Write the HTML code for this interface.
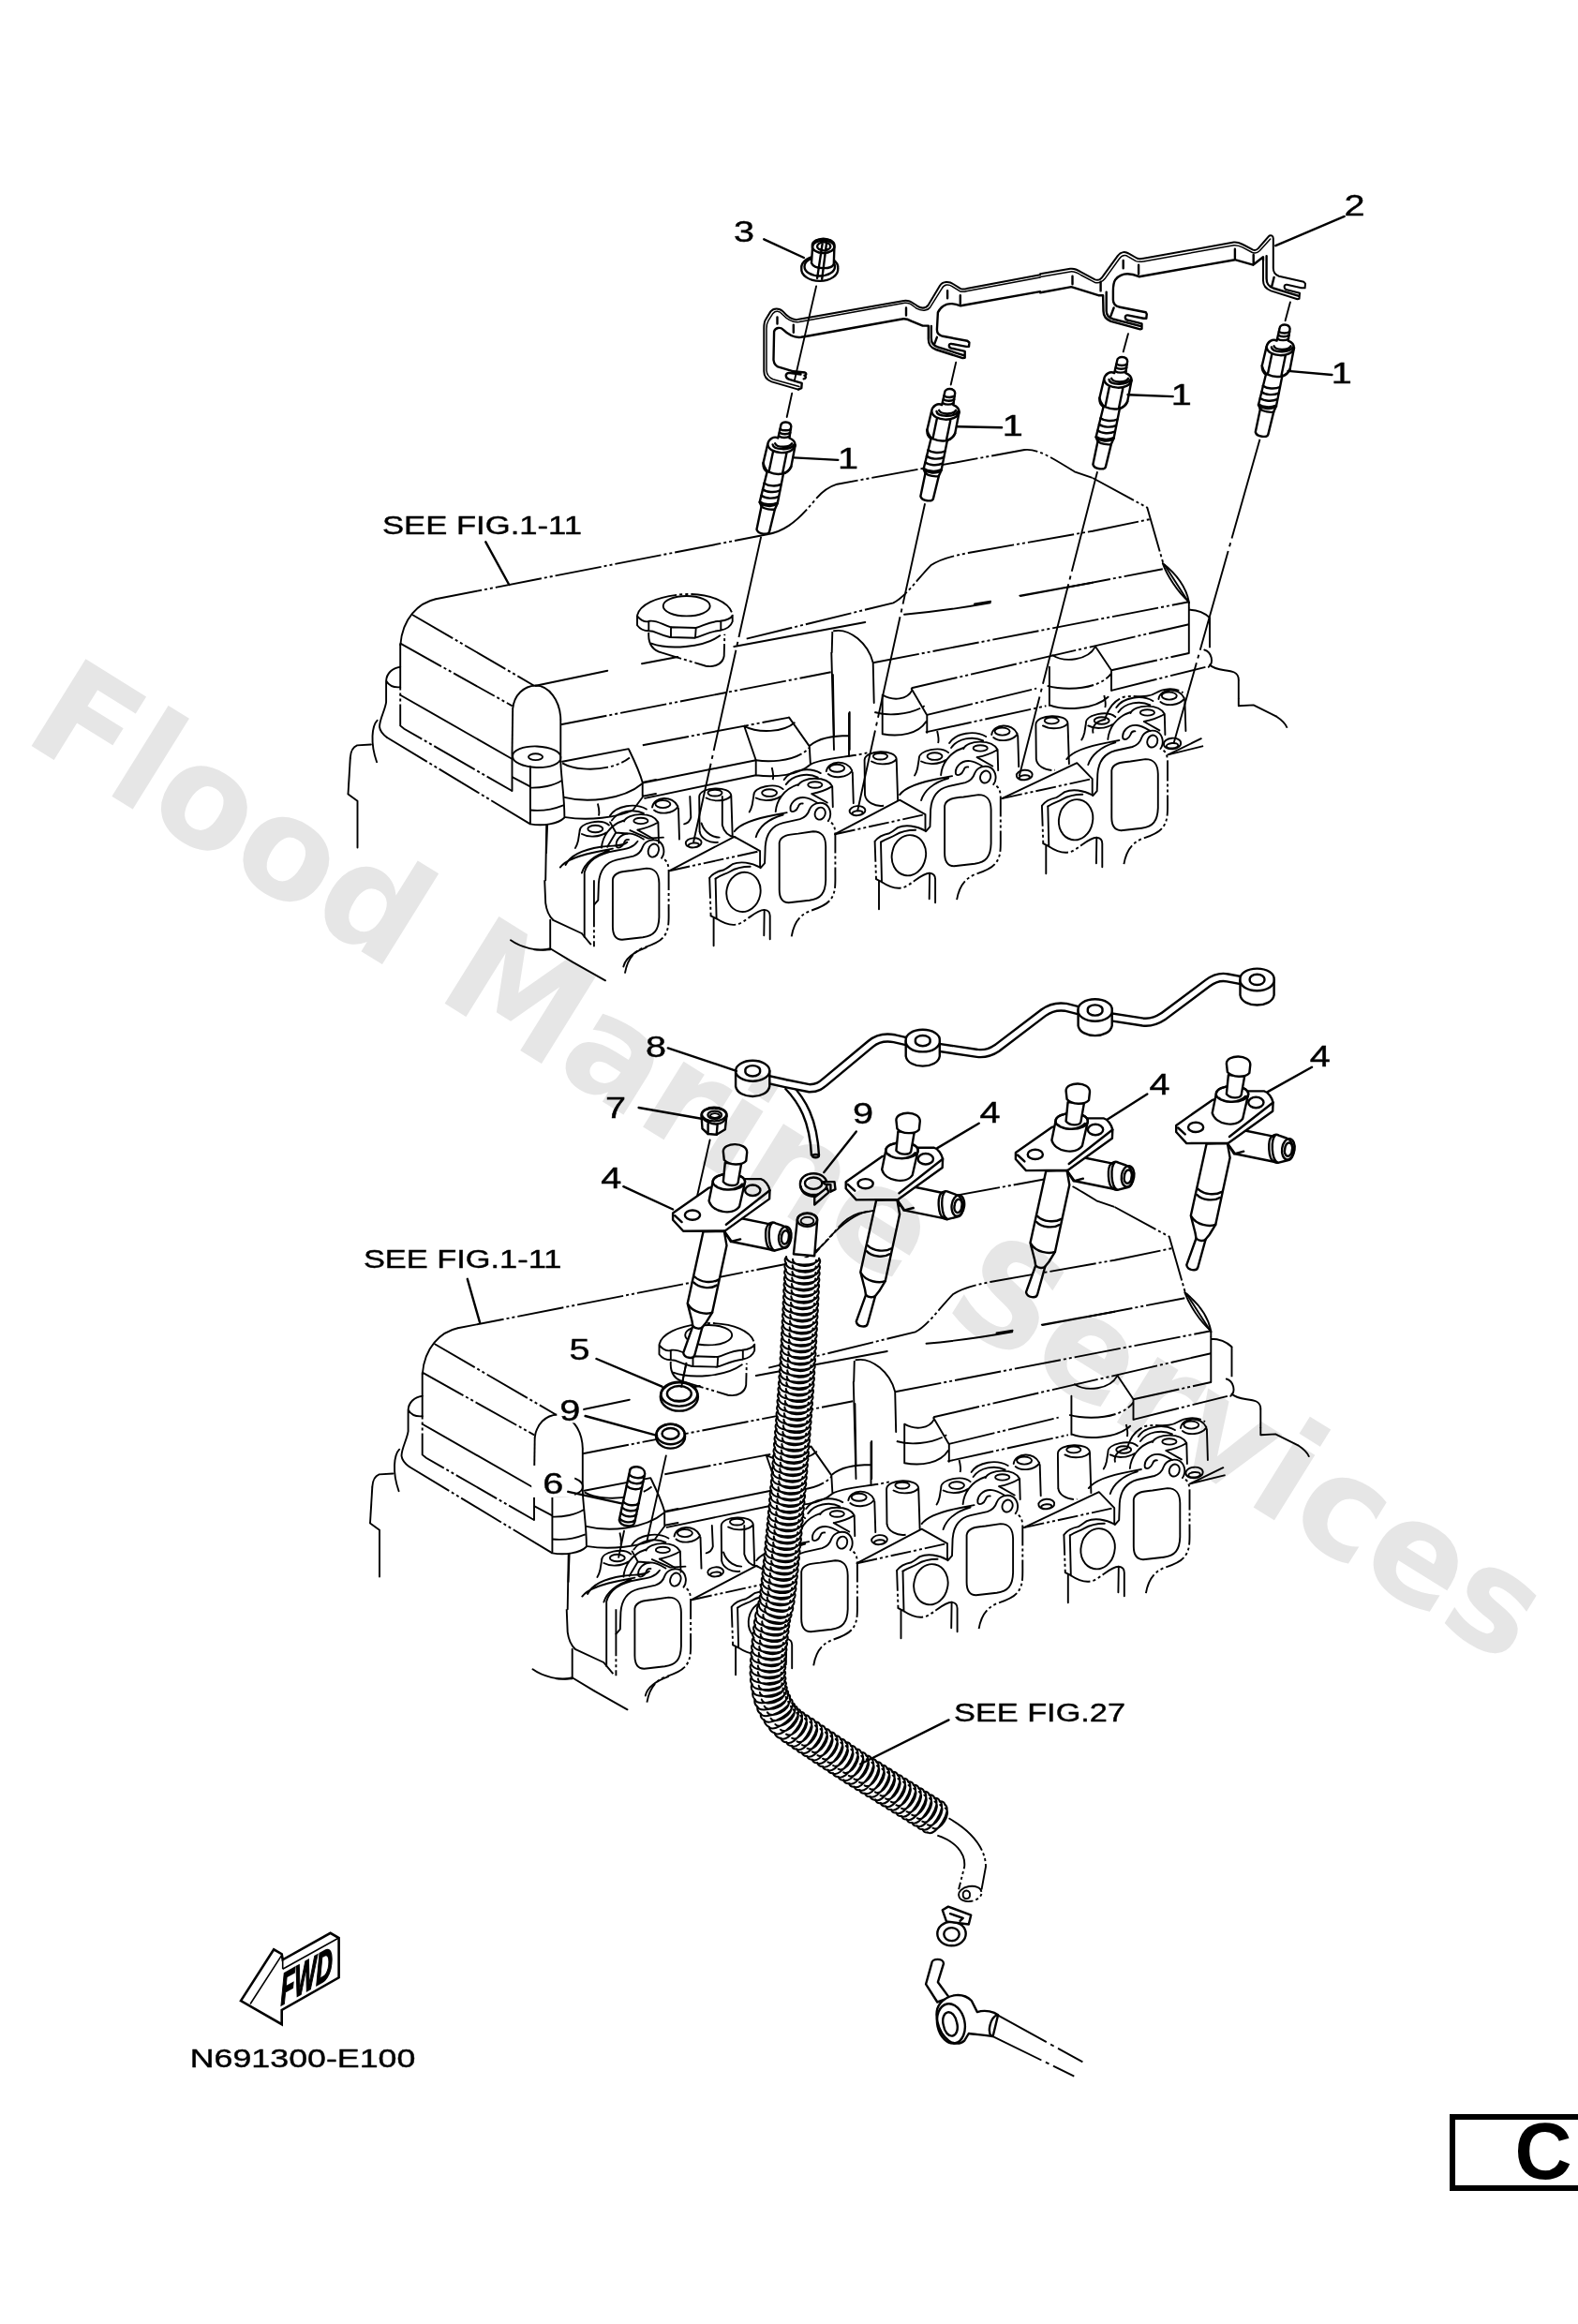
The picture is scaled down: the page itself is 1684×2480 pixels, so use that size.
<!DOCTYPE html>
<html><head><meta charset="utf-8"><title>Parts diagram</title>
<style>
html,body{margin:0;padding:0;background:#fff;}
svg{display:block}
.wm{font-family:"DejaVu Sans","Liberation Sans",sans-serif;font-weight:bold;fill:#e6e6e6;}
.lb{font-family:"Liberation Sans",sans-serif;font-size:27px;fill:#000;stroke:#000;stroke-width:0.4px}
.s{fill:none;stroke:#000;stroke-width:2.4;stroke-linecap:round;stroke-linejoin:round}
.p{fill:none;stroke:#000;stroke-width:1.9;stroke-dasharray:50 3 3 3 3 3}
.q{fill:none;stroke:#000;stroke-width:1.9;stroke-dasharray:22 3 3 3 3 3}
.t{fill:none;stroke:#000;stroke-width:1.9;stroke-linecap:round;stroke-linejoin:round}
.c{fill:none;stroke:#000;stroke-width:1.9;stroke-dasharray:110 5 4 5}
.c2{fill:none;stroke:#000;stroke-width:1.9;stroke-dasharray:60 5 4 5}
.hz{fill:none;stroke:#000;stroke-width:2.0;stroke-linecap:round}
.s3{fill:none;stroke:#000;stroke-width:2.0;stroke-linecap:round;stroke-linejoin:round}
.s2{fill:none;stroke:#000;stroke-width:1.5;stroke-linecap:round;stroke-linejoin:round}
.w{fill:#fff;stroke:#000;stroke-width:2.4;stroke-linejoin:round;stroke-linecap:round}
</style></head><body>
<svg width="1684" height="2480" viewBox="0 0 1684 2480">
<defs><g id="eng">
<path class="q" d="M 1021.1,960.2 C 1023.1,948.2 1028.2,938.2 1040.2,933.2 C 1052.2,929.2 1062.2,926.2 1066.2,914.2 C 1068.2,908.2 1067.8,900.2 1067.8,892.2 L 1067.8,850.1 C 1067.4,842.1 1065.2,839.1 1060.2,837.1"/>
<path class="t" d="M 1060.2,837.1 C 1064.2,832.1 1063.2,823.1 1057.2,819.1 C 1051.2,816.1 1043.2,818.1 1040.2,825.1 C 1038.6,830.1 1036.2,833.1 1030.2,835.1 L 1012.1,839.1 C 1000.1,842.1 994.1,850.1 993.1,864.1 L 992.5,882.1 L 988.1,887.2 M 1056.7,830.9 A 5.4 6.6 20 1 0 1046.5,827.2 A 5.4 6.6 20 1 0 1056.7,830.9 Z M 1008.1,860.1 C 1009.1,852.5 1018.1,851.3 1028.2,850.5 L 1044.2,848.1 C 1054.2,848.1 1057.4,854.1 1057.6,864.1 L 1057.6,900.2 C 1057.2,914.2 1052.2,920.2 1040.2,921.8 L 1018.1,924.2 C 1010.1,924.2 1008.1,918.2 1008.1,910.2 Z M 987.5,916.5 A 18 21.2 12 1 0 952.3,909 A 18 21.2 12 1 0 987.5,916.5 Z M 933.6,897.8 C 937,893.2 944.1,890.2 949.1,889.2 C 953.1,887.2 955.1,885.2 958.1,883.1 C 966.1,879.7 978.1,881.1 987.5,886.6 M 940,898.6 C 946.1,894.6 951.1,893.8 955.1,891.2 C 960.1,888.2 968.1,885.8 977.1,885.8"/>
<path class="q" d="M 933.6,897.8 L 935,938.2"/>
<path class="t" d="M 940,898.6 L 941,941.2 M 935,938.2 L 941,941.2 M 938,940.2 L 938,970.3"/>
<path class="q" d="M 941,941.2 C 950.1,947.2 960.1,950.2 968.1,945.2 C 978.1,939.2 984.1,932.2 992.1,931.8"/>
<path class="t" d="M 992.1,931.8 L 991.7,959.2 M 992.1,931.8 C 996.1,932.2 998.1,934.2 998.1,938.2 L 998.1,963.2 M 891,890.2 L 960.1,853.7 L 987.5,869.1 L 987.5,886.6"/>
<path class="q" d="M 891,890.2 L 987.5,869.1"/>
<path class="t" d="M 947.1,807.1 A 7.6 3.4 0 1 0 931.8,807.1 A 7.6 3.4 0 1 0 947.1,807.1 Z M 922.6,811.1 C 923,800 956.1,799 956.7,810.1 M 930,812.5 C 938,817.1 952.1,816.1 956.7,810.1 M 922.6,811.1 L 923,848.1 M 956.7,810.1 L 958.1,853.1"/>
<path class="p" d="M 923,848.1 C 924,856.1 934,861.1 943.1,859.7"/>
<path class="t" d="M 1005.5,807.1 A 8 3.8 0 1 0 989.5,807.1 A 8 3.8 0 1 0 1005.5,807.1 Z M 980.7,810.1 C 980.1,800 1004.1,796 1012.1,803.1 M 980.7,810.1 L 979.1,820.1 C 978.1,824.1 977.1,826.1 976.1,827.5 M 983.1,812.5 C 990.1,816.5 1002.1,815.7 1009.1,811.1 M 1004.1,827.1 C 1005.1,816.1 1012.1,803.1 1028.2,798 M 1028.2,799 C 1032.2,790 1058.2,788 1064.6,800 L 1065.2,822.1 M 1053.8,798.4 A 7.6 3.2 0 1 0 1038.6,798.4 A 7.6 3.2 0 1 0 1053.8,798.4 Z M 1013.1,793 C 1020.1,782 1040.2,779 1052.2,786 M 1015.1,798 C 1022.1,788 1038.2,785 1049.2,790.4 M 1042.6,808.1 L 1059.2,817.5 M 1042.6,808.1 C 1048.2,807.1 1056.2,805.1 1064.6,800 M 1020.1,826.1 C 1018.5,819.1 1025.2,811.1 1035.2,812.1 C 1040.2,812.5 1044.2,815.1 1049.2,818.1 M 1020.1,826.1 C 1022.1,828.1 1026.2,827.1 1028.2,822.1 C 1029.2,819.1 1031.2,818.1 1033.2,818.5 M 960.1,848.1 C 966.1,840.1 984.1,834.1 1004.1,830.5 L 1016.1,828.1 M 983.1,854.1 C 986.1,844.1 996.1,835.1 1012.1,830.5 M 1077.6,780.6 A 8 4 0 1 0 1061.6,780.6 A 8 4 0 1 0 1077.6,780.6 Z M 1058.2,784 C 1060.2,772 1080.2,771 1085.6,783 M 1060.2,787 C 1066.2,792 1080.2,791 1085.6,783.6 M 1086.2,785 L 1087.2,818.1"/>
<path class="p" d="M 1000.1,780 C 1001.1,784 1002.1,790 1001.1,793"/>
<path class="t" d="M 923.4,864.4 A 8.4 5 -5 1 0 906.6,865.9 A 8.4 5 -5 1 0 923.4,864.4 Z M 920.6,867.2 A 5.6 2.4 -5 1 0 909.4,868.2 A 5.6 2.4 -5 1 0 920.6,867.2 Z"/>
<path class="q" d="M 1199.4,922.2 C 1201.4,910.2 1206.4,900.2 1218.4,895.2 C 1230.4,891.2 1240.4,888.2 1244.4,876.1 C 1246.4,870.1 1246,862.1 1246,854.1 L 1246,812.1 C 1245.6,804.1 1243.4,801 1238.4,799"/>
<path class="t" d="M 1238.4,799 C 1242.4,794 1241.4,785 1235.4,781 C 1229.4,778 1221.4,780 1218.4,787 C 1216.8,792 1214.4,795 1208.4,797 L 1190.3,801 C 1178.3,804.1 1172.3,812.1 1171.3,826.1 L 1170.7,844.1 L 1166.3,849.1 M 1234.9,792.9 A 5.4 6.6 20 1 0 1224.7,789.2 A 5.4 6.6 20 1 0 1234.9,792.9 Z M 1186.3,822.1 C 1187.3,814.5 1196.4,813.3 1206.4,812.5 L 1222.4,810.1 C 1232.4,810.1 1235.6,816.1 1235.8,826.1 L 1235.8,862.1 C 1235.4,876.1 1230.4,882.1 1218.4,883.7 L 1196.4,886.2 C 1188.3,886.2 1186.3,880.1 1186.3,872.1 Z M 1165.7,878.5 A 18 21.2 12 1 0 1130.5,871 A 18 21.2 12 1 0 1165.7,878.5 Z M 1111.9,859.7 C 1115.3,855.1 1122.3,852.1 1127.3,851.1 C 1131.3,849.1 1133.3,847.1 1136.3,845.1 C 1144.3,841.7 1156.3,843.1 1165.7,848.5 M 1118.3,860.5 C 1124.3,856.5 1129.3,855.7 1133.3,853.1 C 1138.3,850.1 1146.3,847.7 1155.3,847.7"/>
<path class="q" d="M 1111.9,859.7 L 1113.3,900.2"/>
<path class="t" d="M 1118.3,860.5 L 1119.3,903.2 M 1113.3,900.2 L 1119.3,903.2 M 1116.3,902.2 L 1116.3,932.2"/>
<path class="q" d="M 1119.3,903.2 C 1128.3,909.2 1138.3,912.2 1146.3,907.2 C 1156.3,901.2 1162.3,894.2 1170.3,893.8"/>
<path class="t" d="M 1170.3,893.8 L 1169.9,921.2 M 1170.3,893.8 C 1174.3,894.2 1176.3,896.2 1176.3,900.2 L 1176.3,925.2 M 1069.2,852.1 L 1149.3,814.1 L 1165.7,831.1 L 1165.7,848.5"/>
<path class="q" d="M 1069.2,852.1 L 1165.7,831.1"/>
<path class="t" d="M 1183.7,769 A 8 3.8 0 1 0 1167.7,769 A 8 3.8 0 1 0 1183.7,769 Z M 1158.9,772 C 1158.3,762 1182.3,758 1190.3,765 M 1158.9,772 L 1157.3,782 C 1156.3,786 1155.3,788 1154.3,789.4 M 1161.3,774.4 C 1168.3,778.4 1180.3,777.6 1187.3,773 M 1182.3,789 C 1183.3,778 1190.3,765 1206.4,760 M 1206.4,761 C 1210.4,752 1236.4,750 1242.8,762 L 1243.4,784 M 1232,760.4 A 7.6 3.2 0 1 0 1216.8,760.4 A 7.6 3.2 0 1 0 1232,760.4 Z M 1191.3,755 C 1198.4,744 1218.4,741 1230.4,748 M 1193.4,760 C 1200.4,750 1216.4,747 1227.4,752.4 M 1220.8,770 L 1237.4,779.4 M 1220.8,770 C 1226.4,769 1234.4,767 1242.8,762 M 1198.4,788 C 1196.8,781 1203.4,773 1213.4,774 C 1218.4,774.4 1222.4,777 1227.4,780 M 1198.4,788 C 1200.4,790 1204.4,789 1206.4,784 C 1207.4,781 1209.4,780 1211.4,780.4 M 1138.3,810.1 C 1144.3,802.1 1162.3,796 1182.3,792.4 L 1194.4,790 M 1161.3,816.1 C 1164.3,806.1 1174.3,797 1190.3,792.4 M 1255.8,742.6 A 8 4 0 1 0 1239.8,742.6 A 8 4 0 1 0 1255.8,742.6 Z M 1236.4,746 C 1238.4,734 1258.4,733 1263.8,745 M 1238.4,749 C 1244.4,754 1258.4,753 1263.8,745.6 M 1264.4,747 L 1265.4,780"/>
<path class="p" d="M 1178.3,742 C 1179.3,746 1180.3,752 1179.3,755"/>
<path class="t" d="M 1101.6,826.3 A 8.4 5 -5 1 0 1084.9,827.8 A 8.4 5 -5 1 0 1101.6,826.3 Z M 1098.8,829.2 A 5.6 2.4 -5 1 0 1087.6,830.2 A 5.6 2.4 -5 1 0 1098.8,829.2 Z M 1129.9,769 A 7.6 3.4 0 1 0 1114.7,769 A 7.6 3.4 0 1 0 1129.9,769 Z M 1105.4,773 C 1105.8,762 1138.9,761 1139.5,772 M 1112.9,774.4 C 1120.9,779 1134.9,778 1139.5,772 M 1105.4,773 L 1105.8,810.1 M 1139.5,772 L 1140.9,815.1"/>
<path class="q" d="M 1105.8,810.1 C 1106.8,818.1 1116.9,823.1 1125.9,821.7 M 844.7,999.3 C 846.7,987.3 851.7,977.3 863.8,972.3 C 875.8,968.2 885.8,965.2 889.8,953.2 C 891.8,947.2 891.4,939.2 891.4,931.2 L 891.4,889.2 C 891,881.1 888.8,878.1 883.8,876.1"/>
<path class="t" d="M 883.8,876.1 C 887.8,871.1 886.8,862.1 880.8,858.1 C 874.8,855.1 866.8,857.1 863.8,864.1 C 862.2,869.1 859.8,872.1 853.7,874.1 L 835.7,878.1 C 823.7,881.1 817.7,889.2 816.7,903.2 L 816.1,921.2 L 811.7,926.2 M 880.3,870 A 5.4 6.6 20 1 0 870.1,866.3 A 5.4 6.6 20 1 0 880.3,870 Z M 831.7,899.2 C 832.7,891.6 841.7,890.4 851.7,889.6 L 867.8,887.2 C 877.8,887.2 881,893.2 881.2,903.2 L 881.2,939.2 C 880.8,953.2 875.8,959.2 863.8,960.8 L 841.7,963.2 C 833.7,963.2 831.7,957.2 831.7,949.2 Z M 811.1,955.6 A 18 21.2 12 1 0 775.8,948.1 A 18 21.2 12 1 0 811.1,955.6 Z M 757.2,936.8 C 760.6,932.2 767.6,929.2 772.6,928.2 C 776.7,926.2 778.7,924.2 781.7,922.2 C 789.7,918.8 801.7,920.2 811.1,925.6 M 763.6,937.6 C 769.6,933.6 774.6,932.8 778.7,930.2 C 783.7,927.2 791.7,924.8 800.7,924.8"/>
<path class="q" d="M 757.2,936.8 L 758.6,977.3"/>
<path class="t" d="M 763.6,937.6 L 764.6,980.3 M 758.6,977.3 L 764.6,980.3 M 761.6,979.3 L 761.6,1009.3"/>
<path class="q" d="M 764.6,980.3 C 773.6,986.3 783.7,989.3 791.7,984.3 C 801.7,978.3 807.7,971.3 815.7,970.9"/>
<path class="t" d="M 815.7,970.9 L 815.3,998.3 M 815.7,970.9 C 819.7,971.3 821.7,973.3 821.7,977.3 L 821.7,1002.3 M 714.6,929.2 L 783.7,892.8 L 811.1,908.2 L 811.1,925.6"/>
<path class="q" d="M 714.6,929.2 L 811.1,908.2"/>
<path class="t" d="M 770.6,846.1 A 7.6 3.4 0 1 0 755.4,846.1 A 7.6 3.4 0 1 0 770.6,846.1 Z M 746.2,850.1 C 746.6,839.1 779.7,838.1 780.3,849.1 M 753.6,851.5 C 761.6,856.1 775.7,855.1 780.3,849.1 M 746.2,850.1 L 746.6,887.2 M 780.3,849.1 L 781.7,892.2"/>
<path class="p" d="M 746.6,887.2 C 747.6,895.2 757.6,900.2 766.6,898.8"/>
<path class="t" d="M 829.1,846.1 A 8 3.8 0 1 0 813.1,846.1 A 8 3.8 0 1 0 829.1,846.1 Z M 804.3,849.1 C 803.7,839.1 827.7,835.1 835.7,842.1 M 804.3,849.1 L 802.7,859.1 C 801.7,863.1 800.7,865.1 799.7,866.5 M 806.7,851.5 C 813.7,855.5 825.7,854.7 832.7,850.1 M 827.7,866.1 C 828.7,855.1 835.7,842.1 851.7,837.1 M 851.7,838.1 C 855.7,829.1 881.8,827.1 888.2,839.1 L 888.8,861.1 M 877.4,837.5 A 7.6 3.2 0 1 0 862.2,837.5 A 7.6 3.2 0 1 0 877.4,837.5 Z M 836.7,832.1 C 843.7,821.1 863.8,818.1 875.8,825.1 M 838.7,837.1 C 845.7,827.1 861.8,824.1 872.8,829.5 M 866.2,847.1 L 882.8,856.5 M 866.2,847.1 C 871.8,846.1 879.8,844.1 888.2,839.1 M 843.7,865.1 C 842.1,858.1 848.7,850.1 858.8,851.1 C 863.8,851.5 867.8,854.1 872.8,857.1 M 843.7,865.1 C 845.7,867.1 849.7,866.1 851.7,861.1 C 852.7,858.1 854.7,857.1 856.7,857.5 M 783.7,887.2 C 789.7,879.1 807.7,873.1 827.7,869.5 L 839.7,867.1 M 806.7,893.2 C 809.7,883.1 819.7,874.1 835.7,869.5 M 901.2,819.7 A 8 4 0 1 0 885.2,819.7 A 8 4 0 1 0 901.2,819.7 Z M 881.8,823.1 C 883.8,811.1 903.8,810.1 909.2,822.1 M 883.8,826.1 C 889.8,831.1 903.8,830.1 909.2,822.7 M 909.8,824.1 L 910.8,857.1"/>
<path class="p" d="M 823.7,819.1 C 824.7,823.1 825.7,829.1 824.7,832.1"/>
<path class="t" d="M 748.6,898.6 A 8.4 5 -5 1 0 731.8,900.1 A 8.4 5 -5 1 0 748.6,898.6 Z M 745.8,901.5 A 5.6 2.4 -5 1 0 734.6,902.5 A 5.6 2.4 -5 1 0 745.8,901.5 Z"/>
<path class="q" d="M 666.9,1038.7 C 668.9,1026.7 673.9,1016.7 685.9,1011.7 C 698,1007.7 708,1004.7 712,992.7 C 714,986.7 713.6,978.7 713.6,970.7 L 713.6,928.6 C 713.2,920.6 711,917.6 706,915.6"/>
<path class="t" d="M 706,915.6 C 710,910.6 709,901.6 703,897.6 C 697,894.6 688.9,896.6 685.9,903.6 C 684.3,908.6 681.9,911.6 675.9,913.6 L 657.9,917.6 C 645.9,920.6 639.9,928.6 638.9,942.6 L 638.3,960.6 L 633.9,965.6 M 702.4,909.4 A 5.4 6.6 20 1 0 692.3,905.7 A 5.4 6.6 20 1 0 702.4,909.4 Z M 653.9,938.6 C 654.9,931 663.9,929.8 673.9,929 L 689.9,926.6 C 700,926.6 703.2,932.6 703.4,942.6 L 703.4,978.7 C 703,992.7 698,998.7 685.9,1000.3 L 663.9,1002.7 C 655.9,1002.7 653.9,996.7 653.9,988.7 Z M 643.3,884.5 A 8 3.8 0 1 0 627.3,884.5 A 8 3.8 0 1 0 643.3,884.5 Z M 618.5,887.6 C 617.9,877.5 641.9,873.5 649.9,880.5 M 618.5,887.6 L 616.9,897.6 C 615.9,901.6 614.9,903.6 613.9,905 M 620.9,890 C 627.9,894 639.9,893.2 646.9,888.6 M 641.9,904.6 C 642.9,893.6 649.9,880.5 665.9,875.5 M 665.9,876.5 C 669.9,867.5 696,865.5 702.4,877.5 L 703,899.6 M 691.5,875.9 A 7.6 3.2 0 1 0 676.3,875.9 A 7.6 3.2 0 1 0 691.5,875.9 Z M 650.9,870.5 C 657.9,859.5 677.9,856.5 689.9,863.5 M 652.9,875.5 C 659.9,865.5 675.9,862.5 686.9,867.9 M 680.3,885.6 L 697,895 M 680.3,885.6 C 685.9,884.5 694,882.5 702.4,877.5 M 657.9,903.6 C 656.3,896.6 662.9,888.6 672.9,889.6 C 677.9,890 681.9,892.6 686.9,895.6 M 657.9,903.6 C 659.9,905.6 663.9,904.6 665.9,899.6 C 666.9,896.6 668.9,895.6 670.9,896 M 597.8,925.6 C 603.8,917.6 621.9,911.6 641.9,908 L 653.9,905.6 M 620.9,931.6 C 623.9,921.6 633.9,912.6 649.9,908 M 715.4,858.1 A 8 4 0 1 0 699.4,858.1 A 8 4 0 1 0 715.4,858.1 Z M 696,861.5 C 698,849.5 718,848.5 723.4,860.5 M 698,864.5 C 704,869.5 718,868.5 723.4,861.1 M 724,862.5 L 725,895.6"/>
<path class="p" d="M 637.9,857.5 C 638.9,861.5 639.9,867.5 638.9,870.5 M 465,639.3 L 820,570"/>
<path class="t" d="M 465,639.3 C 446.7,643.3 429.3,660 427.3,688.3"/>
<path class="p" d="M 440,656 L 570,731.7 M 427.3,686.7 L 546.7,753.3"/>
<path class="t" d="M 427.3,741.7 L 546.7,810"/>
<path class="p" d="M 820,570 C 840,566 853.3,553.3 870,533.3 C 878.3,523.3 885,519.3 893.3,516.7 L 1093.3,480 C 1106.7,478.7 1120,486.7 1146.7,503.3 L 1166,510 M 1166,510 L 1224.3,541.7 L 1241,600 L 1269.3,644"/>
<path class="t" d="M 571.7,731.7 L 648.3,715.7 M 685,708.3 L 723.3,701 M 783.3,690 L 923.3,664"/>
<path class="p" d="M 796.7,681.7 L 953.3,643.3 C 966.7,636.7 980,616.7 993.3,603.3 C 1003.3,596.7 1016.7,593.3 1033.3,590 L 1166,566.7 M 1166,566.7 L 1227.7,554"/>
<path class="t" d="M 965,655.7 C 993.3,653.3 1023.3,649.3 1056.7,643.3 M 1088.3,635.7 L 1166,621.7 M 1040,644.5 L 1057.1,641.8 M 1089.1,636 L 1135.8,627.4"/>
<path class="p" d="M 1135.8,627.4 L 1240.8,607.3"/>
<path class="t" d="M 1240.8,601.1 C 1256.7,613.7 1265.9,627.4 1268.8,642.2 M 1240.8,601.1 C 1245.3,613.7 1256.7,631.9 1268.8,642.2"/>
<path class="p" d="M 427.2,686.6 L 427.2,774.4 L 431.3,777.8 L 546.5,844"/>
<path class="t" d="M 546.5,844 L 546.5,804.1"/>
<path class="p" d="M 546.5,804.1 L 547.2,756.2"/>
<path class="t" d="M 547.2,756.2 C 548.8,741.3 559,732.2 571.6,731.5 C 585.3,731.5 597.8,747 598.3,767.6"/>
<path class="p" d="M 598.3,767.6 L 598.3,813.2"/>
<path class="t" d="M 600.1,812.7 L 670.8,799.1 C 675.4,808.6 682.2,822.3 685.7,834.9 L 685.7,849.7 M 685.7,834.9 L 700,831.9 M 685.7,849.7 L 700,847"/>
<path class="p" d="M 600.1,814.3 C 618.3,824.6 654.9,822.3 672,808.6"/>
<path class="t" d="M 602.4,850.8 C 625.2,856.6 664,854.3 685.7,836 M 603.5,872.1 C 627.5,875.9 659.4,872.5 675.4,864.5 L 685.7,850.8 M 427.2,711.7 C 418.7,712.8 412.6,718.5 412.1,726.5 C 415.3,732.2 421,733.8 427.2,733.3 M 412.1,726.5 L 412.1,749.3 C 410.7,758.4 405,767.6 405,775.6 C 405.5,780.1 408.4,783.5 413,787"/>
<path class="p" d="M 413,787 L 565.9,879.4"/>
<path class="t" d="M 402.7,768.7 C 397,774.4 394.8,792.7 402.1,813.2 M 395.9,794.5 L 381.1,795.4 C 376.5,797.2 374.2,801.8 373.8,808.6"/>
<path class="p" d="M 373.8,808.6 L 371.5,847.4"/>
<path class="t" d="M 371.5,847.4 L 381.5,854.7 L 381.5,904.5 M 579.1,807.7 A 7.5 3.4 0 1 0 564,807.7 A 7.5 3.4 0 1 0 579.1,807.7 Z M 598.3,808.6 A 25.6 10.7 2 1 0 547.2,806.8 A 25.6 10.7 2 1 0 598.3,808.6 Z M 565.9,817.8 L 565.9,879.4 M 598.3,813.2 C 599,831.5 602.4,849.7 602.4,872.5 M 565.9,879.4 C 579.6,881.6 595.5,879.4 602.4,872.5 M 565.9,840.6 C 577.3,841 591,838.3 599,833.3"/>
<path class="p" d="M 565.9,864.5 C 577.3,865.7 591,863.4 601.2,859.3 M 546.5,829.2 L 565.9,839.4"/>
<path class="t" d="M 584.1,880.5 L 583,909.9 M 545,1003.3 C 556.7,1011.7 573.3,1015 586.7,1013.3"/>
<path class="p" d="M 598.3,773.3 L 886.7,717.3 M 931.7,707.3 L 1268.7,642.3"/>
<path class="t" d="M 890,673.3 C 906.7,670 926.7,686.7 931.7,707.3 L 932.7,750 M 887.3,696.7 L 890,800 M 906.7,760 L 906.7,800"/>
<path class="p" d="M 888.3,674 L 887.7,696.7 M 1268.8,642.2 L 1268.8,649.1"/>
<path class="t" d="M 1268.8,649.1 L 1268.8,697 M 1268.8,650.7 C 1277.3,650.7 1284.1,652.5 1291,659.3"/>
<path class="p" d="M 1291,659.3 L 1291,691.3 M 972.7,734.2 L 1268.8,666.2"/>
<path class="t" d="M 1168.9,689.7 L 1186,715.2 L 1186,736.9"/>
<path class="p" d="M 1186,715.2 L 1268.8,697 M 1186,736.9 L 1286.4,711.8"/>
<path class="t" d="M 1123.3,699.2 C 1135.8,707.2 1160.9,705 1168.9,690.1 M 1119.9,711.8 L 1119.9,752.9 M 1119.9,752.4 C 1135.8,758.6 1167.8,757.4 1182.6,743.7"/>
<path class="p" d="M 1117.6,731.9 C 1135.8,736.9 1172.3,736.9 1186,718.6 M 989.3,762.9 L 1106.2,734.6 M 987.8,781.4 L 1116.4,753.3"/>
<path class="t" d="M 1285.3,693.5 C 1293.3,695.8 1295.5,707.2 1289.8,711.8 M 1291,709.5 C 1297.8,716.4 1309.2,714.1 1317.2,717.5 C 1320.6,719.1 1321.8,722.1 1321.8,725.5"/>
<path class="p" d="M 1321.8,725.5 L 1321.8,746"/>
<path class="t" d="M 1321.8,746 L 1321.8,753.3 L 1337.7,752.4 L 1361.7,764.3"/>
<path class="p" d="M 1361.7,764.3 C 1368.5,768.8 1372,772.3 1373.6,776.8"/>
<path class="t" d="M 1246.5,805.3 L 1281.8,788.2"/>
<path class="p" d="M 1246.5,805.3 L 1284.1,796.2 M 1166.6,782.5 C 1164.3,773.4 1172.3,768.8 1179.2,767.7 C 1181.5,759.7 1186,748.3 1199.7,743.7 C 1213.4,741.5 1222.5,746 1233.9,739.2 C 1243.1,733.5 1256.7,734.6 1262.5,739.2"/>
<path class="t" d="M 1260.1,792.7 A 9.1 5.5 -5 1 0 1242,794.3 A 9.1 5.5 -5 1 0 1260.1,792.7 Z M 1257.2,795.2 A 6.2 2.5 -5 1 0 1244.9,796.3 A 6.2 2.5 -5 1 0 1257.2,795.2 Z"/>
<path class="p" d="M 685.8,795.3 L 842.1,765.6"/>
<path class="t" d="M 842.1,765.6 L 863.8,796.4 L 864.9,815.8 M 794.2,774.8 L 806.7,811.3 L 806.7,827.2 M 687,835.2 L 806.7,811.3 M 688.1,851.9 L 806.7,827.2 M 794.2,774.8 C 809,782.7 836.4,781.6 847.8,771.3 M 806.7,827.2 C 827.3,830 852.4,827.2 864.9,815.8"/>
<path class="p" d="M 806.7,811.3 C 825,814 852.4,811.3 863.8,797.6"/>
<path class="t" d="M 864.9,795.3 C 872.9,788.4 884.3,785 906,785 M 888.9,720 L 890,785 M 906,761.1 L 906,806.7"/>
<path class="p" d="M 864.9,815.8 C 875.2,809 909.4,807.8 925.4,803.3"/>
<path class="t" d="M 603.5,923 C 608.5,912.9 620.7,906.8 641,903.7 C 655.2,901.7 665.3,903.7 669.4,898.7 M 623.7,931.1 C 626.8,919 639,910.8 657.2,907.8 C 669.4,905.8 675.5,904.8 680.5,897.7 M 623.7,931.1 L 623.7,1000.1"/>
<path class="p" d="M 633.9,939.2 L 633.9,1010.2 M 581.2,939.2 L 582.2,963.6 C 583.2,971.7 586.2,977.8 590.3,981.8"/>
<path class="t" d="M 590.3,981.8 L 620.7,996 M 583.2,880.4 L 582.2,939.2 M 587.2,981.8 L 587.2,1013.3 M 570,1013.3 C 576.1,1013.9 582.2,1013.9 587.2,1012.2 M 610.6,1026.4 L 646,1046.3"/>
<path class="p" d="M 620.7,996 L 630.8,1008.2 M 587.2,1012.2 L 610.6,1026.4"/>
<path class="t" d="M 665.3,1031.5 C 667.3,1022.4 675.5,1016.3 689.7,1011.2 M 651.1,877.4 L 657.2,888.5 L 648.1,903.7 M 657.2,888.5 L 669.4,889.5 M 672.4,886.1 L 691.7,894.6 L 707.9,893.6 M 736.3,850 L 737.3,872.3 C 736.3,876.4 734.3,878.4 730.2,879.4 M 770.8,850 L 770.8,880.4 C 772.8,888.5 778.9,892.6 785,893.6 M 748.5,878.4 C 752.5,890.6 762.7,893.6 767.7,893.6"/>
<path class="p" d="M 680,656.7 C 683.3,643.3 706.7,635 733.3,634 C 760,634 780,643.3 781.7,656.7"/>
<path class="t" d="M 757.7,646.7 A 25 10.7 0 1 0 707.7,646.7 A 25 10.7 0 1 0 757.7,646.7 Z M 680,657.3 L 680,667.3 C 683.3,671.7 688.3,673.3 692.3,673.3 C 698.3,672.7 701.7,676.7 715,680 L 741.7,680.7 C 750,678.3 756.7,674 768.3,672.7 C 775,671.7 780,668.3 781.7,663.3 L 781.7,656.7 M 680,657.3 C 685,663.3 690,664 693.3,662.7 C 701.7,661.7 706.7,666.7 716,669.3 L 742.7,670 C 751.7,667.3 756.7,663.3 768.3,662.7 C 775,662 780,660 781.7,656.7 M 716,669.3 L 716,680 M 742.7,670 L 742,680.7 M 692.3,663.3 L 692.3,673.3 M 769.3,662.7 L 769.3,672.7"/>
<path class="p" d="M 692.3,675 C 691.7,683.3 693.3,693.3 706.7,696.7 L 753.3,710.7 C 765,712.7 771.7,706.7 772.7,700 L 773.3,676.7"/>
<path class="t" d="M 695,686.7 C 713.3,693.3 750,691.7 768.3,678.3 M 972.7,735 L 989.3,763.3 L 989.3,781.7 M 941.7,741.7 C 953.3,748.3 968.3,746.7 973.3,736.7 M 941.7,783.3 C 960,786.7 980,783.3 988.3,770 M 941.7,741.7 L 941.7,783.3"/>
<path class="p" d="M 933.3,760 C 950,765 973.3,761.7 986.7,753.3"/>
</g></defs>
<rect width="1684" height="2480" fill="#fff"/>
<use href="#eng"/>
<use href="#eng" transform="translate(23.5,778)"/>
<g id="top">
<path class="c" d="M812.2,572.6 L740.0,899.0 M987.1,537.2 L915.0,866.0 M1171.1,503.2 L1087.7,828.3 M1344.5,468.7 L1252.7,792.7"/>
<path class="s3" d="M 851.9,415.6 L 823.5,407.4 C 818.4,405.4 815.3,402.4 815.3,396.3 L 815.3,349.7 C 815.3,345.6 815.3,343.6 817.4,340.5 L 822.4,332.4 C 825.5,328.4 831.6,328.4 835.6,332.4 C 840.7,338.5 844.8,341.5 850.8,341.1 L 964.4,320.9 C 970.5,320.2 972.5,322.3 978.6,326.3 C 983.7,329.8 987.7,329.4 990.8,325.3 L 1002.9,305 C 1006,300 1013.1,300 1017.1,303 L 1025.2,308.1 C 1028.3,309.1 1029.3,308.7 1031.3,308.1 L 1110,293.3"/>
<path class="s2" d="M 852.9,412.5 L 824.9,404.8 C 820.4,402.8 818.4,400.4 818,395.3 L 818,350.7 C 818,346.6 818.4,344.6 820,342.1 L 824.9,334.4 C 827.5,331.4 831.6,331.4 835,335.5 C 840.7,341.5 845.8,344.6 852.9,343.6 L 965.4,323.3 C 970.5,322.9 972.5,324.9 977.6,328.8 C 983.7,332.4 989.8,331.8 992.8,327.7 L 1005,308.1 C 1007.4,303.4 1012.1,303 1016.1,305.6 L 1024.2,310.7 C 1027.3,311.7 1029.3,311.5 1031.3,310.7 L 1110,295.9"/>
<path class="s" d="M 846.8,396.3 L 832.6,392.2 C 828.5,391.2 826.1,389.2 825.5,384.1 L 826.1,353.7 C 827.5,349.7 832.6,348.6 835.6,351.7 C 840.7,356.7 846.8,360.8 854.9,359.8 L 864,358.2 L 962.4,340.5 C 966.4,339.5 968.5,340.5 972.5,342.6 L 984.7,347.6 L 990.8,347.6 M 851.9,415.6 L 855.3,414.1 L 855.7,408.9 L 842.3,404.8 C 837.7,403.4 837.7,398.7 841.7,397.9 L 854.5,399.5 M 846.8,396.3 L 859,397.5 C 861,398.3 860.6,400.4 858.5,400.8 C 860.6,401.6 860.2,404 857.7,404.4 M 990.8,347.6 L 990.8,361.8 C 990.8,367.9 992.8,370.9 998.9,373 L 1027.3,382.1 L 1029.7,381.7 L 1029.7,374.8 L 1015.1,371.6 C 1012.1,370.9 1012.1,366.3 1015.1,366.9 L 1031.3,369.9 M 993.8,348 L 993.8,360.8 C 993.8,365.9 995.8,368.9 1000.9,370.3 L 1028.3,379.1 M 1025.2,326.3 C 1013.1,321.3 1005,325.3 1000.9,333.4 L 999.9,351.7 C 999.9,355.7 1001.9,357.8 1006,358.8 L 1032.3,363.8 L 1034.4,365.5 L 1034,369.9 L 1031.3,369.9 M 999.9,359.8 L 996.9,367.9 M 1025.2,326.3 L 1110,311.1 M 829.5,338.5 L 829.5,345.6 M 846.8,346.6 L 846.8,354.7 M 967,328.4 L 967,336.5 M 1011.1,310.1 L 1011.1,318.2 M 1024.8,315.2 L 1024.8,323.7"/>
<path class="s3" d="M 1110.1,292.3 L 1142.1,286.8 C 1147,286.3 1149.4,287.5 1154.2,290.7 L 1168.6,298.4 C 1172.2,299.6 1174.6,298.4 1177.1,294.7 L 1192.7,273.1 C 1196.3,268.3 1201.1,268.3 1204.7,270.7 L 1213.2,275.5 C 1215.6,276.7 1218,276.2 1220.4,275.7 L 1316.7,258.6 C 1321.5,258.1 1323.9,259.8 1327.5,261.5 L 1337.2,266.6 C 1339.6,267.5 1340.8,267.1 1342.7,265.1 L 1354,252.1 C 1355.7,250.2 1358.8,251.4 1358.8,254.5 L 1358.8,286.3 C 1358.8,291.1 1361.3,293.5 1364.9,294.7 L 1391.4,300.8 L 1393,302.7 L 1392.6,307.3 L 1388.9,307.3 L 1373.3,303.7 C 1369.7,303.2 1369.7,308.5 1373.3,309.2 L 1387,312.8 L 1386.5,318.8 L 1384.6,319.3 L 1356.4,310.4 C 1351.6,308.5 1348,305.6 1348,299.6 L 1348,277.9"/>
<path class="s2" d="M 1110.1,295.5 L 1142.1,289.9 C 1147,289.4 1149.4,290.7 1153.5,293.5 L 1167.9,301.2 C 1172.2,302.7 1175.8,301.2 1179,297.6 L 1194.4,276.2 C 1197.5,271.9 1201.1,271.9 1204,273.8 L 1212.2,278.6 C 1215.6,279.8 1218,279.3 1220.4,278.9 L 1316.7,261.8 C 1321,261.3 1323.5,262.7 1326.8,264.4 L 1336.5,269.5 C 1339.6,270.7 1342,269.9 1344.4,267.5 L 1355.7,255"/>
<path class="s" d="M 1110.1,312.3 L 1143.3,306.1 L 1172.2,315.2 L 1177.1,315.2 M 1215.6,295.2 L 1317.9,277.2 L 1337.2,282.7 L 1348,274.3 L 1348,277.9 M 1351.6,273.1 L 1351.6,297.2 C 1351.6,303.2 1354,305.6 1358.8,307.5 L 1385.3,315.7 M 1359.6,295.9 L 1357.2,305.6 M 1177.1,315.2 L 1177.5,332.1 C 1177.5,338.1 1180.7,340.5 1185.5,342.9 L 1216.8,351.3 L 1218.5,350.8 L 1218.5,345.3 L 1203.5,341.7 C 1199.9,341.2 1199.9,335.7 1203.5,336.4 L 1220.4,339.8 M 1180.7,311.6 L 1180.7,332.1 C 1180.7,337.4 1183.8,339.3 1187.9,340.5 L 1217.5,348.2 M 1215.6,295.2 C 1205.9,291.1 1196.3,291.1 1190.3,298.4 C 1187.9,302 1187.9,305.6 1187.9,310.4 L 1187.9,320 C 1187.9,324.8 1190.3,326.8 1195.1,327.7 L 1222.8,333.3 L 1223.8,335.2 L 1223.3,339.8 L 1220.4,339.8 M 1188.6,328.5 L 1185.5,336.9 M 1144.5,294.7 L 1144.5,303.2 M 1174.6,300.8 L 1174.6,310.4 M 1198.7,277.9 L 1198.7,286.3 M 1215.1,282.7 L 1215.1,292.3 M 1317.9,265.8 L 1317.9,275.5 M 1337.7,271.9 L 1337.7,281"/>
<path class="w" d="M 894.2,286.4 A 19.5 12.6 0 1 0 855.3,286.4 A 19.5 12.6 0 1 0 894.2,286.4 Z"/>
<path class="s" d="M 891,284.4 A 16.2 10.1 0 1 0 858.5,284.4 A 16.2 10.1 0 1 0 891,284.4 Z"/>
<path class="w" d="M 867.1,263.5 C 867.1,254.3 890.4,254.3 890.4,263.5 L 889.8,281.7 C 887.3,287.8 869.1,287.8 866,280.7 Z"/>
<path class="s" d="M 890.4,262.4 A 11.8 7.1 0 1 0 866.9,262.4 A 11.8 7.1 0 1 0 890.4,262.4 Z M 886.3,262.9 A 7.1 4.5 0 1 0 872.1,262.9 A 7.1 4.5 0 1 0 886.3,262.9 Z M 878.2,256.4 L 872.1,296.9 M 882.3,257.4 L 877.2,297.9 M 815.3,255.3 L 857.9,275"/>
<path class="t" d="M 871.1,305.4 L 847.8,406.4 M 845.2,419.6 L 839.7,445 M 1020.2,386.6 L 1014.7,410.5 M 1204,356.1 L 1198.7,375.4 M 1376.9,322.4 L 1371.6,342.2"/>
<path class="s" d="M 1361.3,262.2 L 1434.7,230.9"/>
<path class="w" d="M 833.3,454.1 C 833.5,449.1 843.7,449.1 844.3,454.8 L 842.4,467.5 C 847.5,469.4 848.7,472.5 848.7,475.1 L 844.3,497.9 C 842.4,501.7 839.8,504.2 836,505.5 L 829.7,537.2 L 826.9,543.5 L 821.1,567.3 C 820.2,571.4 808.8,570.1 807.5,565 L 812.6,540.3 L 810.7,535.9 L 818.6,503.6 C 815.8,501.7 814.2,497.9 814.5,494.1 L 819.3,473.8 C 820.2,468.7 825.9,464.9 830.3,467.5 Z"/>
<path class="s" d="M 832.6,457.9 C 835.4,459.8 841.1,459.8 843.9,457.9 M 832,461.7 C 834.8,463.7 840.5,463.7 843.3,461.7 M 831.4,465.6 C 834.1,467.5 839.8,467.5 842.6,465.6 M 824.6,474.4 C 825.3,480.1 843.7,481.4 847.5,474.4 M 827.2,473.2 C 828.4,477.6 842.4,478.2 845.2,473.2 M 819.3,474.4 C 820.8,485.2 846.2,486.5 848.7,475.1 M 824.9,482.4 L 820.5,503.6 M 839.5,483.3 L 835,505.5 M 814.5,494.1 C 815.8,500.4 819.6,503.6 820.5,503.6 C 825.9,506.1 832.2,506.1 835,505.5 C 839.8,504.2 843,501.7 844.3,497.9 M 815.5,515.6 C 819.6,518.8 828.4,519.4 833.5,516.9 M 814,522.2 C 818,525.4 826.9,526 832,523.5 M 812.5,528.8 C 816.5,532 825.4,532.6 830.5,530.1 M 811,535.4 C 815,538.6 823.9,539.2 828.9,536.7 M 810.7,535.9 C 814.5,540.3 824.6,541.6 829.7,537.2 M 812.6,540.3 C 815.8,543.5 823.4,544.1 826.9,543.5"/>
<path class="w" d="M 1008.2,418.7 C 1008.4,413.7 1018.6,413.7 1019.2,419.4 L 1017.3,432.1 C 1022.4,434 1023.6,437.1 1023.6,439.7 L 1019.2,462.5 C 1017.3,466.3 1014.7,468.8 1010.9,470.1 L 1004.6,501.8 L 1001.8,508.1 L 996,531.9 C 995.1,536 983.7,534.7 982.4,529.6 L 987.5,504.9 L 985.6,500.5 L 993.5,468.2 C 990.7,466.3 989.1,462.5 989.4,458.7 L 994.2,438.4 C 995.1,433.3 1000.8,429.5 1005.2,432.1 Z"/>
<path class="s" d="M 1007.5,422.5 C 1010.3,424.4 1016,424.4 1018.8,422.5 M 1006.9,426.3 C 1009.7,428.3 1015.4,428.3 1018.2,426.3 M 1006.3,430.2 C 1009,432.1 1014.7,432.1 1017.5,430.2 M 999.5,439 C 1000.2,444.7 1018.6,446 1022.4,439 M 1002.1,437.8 C 1003.3,442.2 1017.3,442.8 1020.1,437.8 M 994.2,439 C 995.7,449.8 1021.1,451.1 1023.6,439.7 M 999.8,447 L 995.4,468.2 M 1014.4,447.9 L 1009.9,470.1 M 989.4,458.7 C 990.7,465 994.5,468.2 995.4,468.2 C 1000.8,470.7 1007.1,470.7 1009.9,470.1 C 1014.7,468.8 1017.9,466.3 1019.2,462.5 M 990.4,480.2 C 994.5,483.4 1003.3,484 1008.4,481.5 M 988.9,486.8 C 992.9,490 1001.8,490.6 1006.9,488.1 M 987.4,493.4 C 991.4,496.6 1000.3,497.2 1005.4,494.7 M 985.9,500 C 989.9,503.2 998.8,503.8 1003.8,501.3 M 985.6,500.5 C 989.4,504.9 999.5,506.2 1004.6,501.8 M 987.5,504.9 C 990.7,508.1 998.3,508.7 1001.8,508.1"/>
<path class="w" d="M 1192.2,384.7 C 1192.4,379.7 1202.6,379.7 1203.2,385.4 L 1201.3,398.1 C 1206.4,400 1207.6,403.1 1207.6,405.7 L 1203.2,428.5 C 1201.3,432.3 1198.7,434.8 1194.9,436.1 L 1188.6,467.8 L 1185.8,474.1 L 1180,497.9 C 1179.1,502 1167.7,500.7 1166.4,495.6 L 1171.5,470.9 L 1169.6,466.5 L 1177.5,434.2 C 1174.7,432.3 1173.1,428.5 1173.4,424.7 L 1178.2,404.4 C 1179.1,399.3 1184.8,395.5 1189.2,398.1 Z"/>
<path class="s" d="M 1191.5,388.5 C 1194.3,390.4 1200,390.4 1202.8,388.5 M 1190.9,392.3 C 1193.7,394.3 1199.4,394.3 1202.2,392.3 M 1190.3,396.2 C 1193,398.1 1198.7,398.1 1201.5,396.2 M 1183.5,405 C 1184.2,410.7 1202.6,412 1206.4,405 M 1186.1,403.8 C 1187.3,408.2 1201.3,408.8 1204.1,403.8 M 1178.2,405 C 1179.7,415.8 1205.1,417.1 1207.6,405.7 M 1183.8,413 L 1179.4,434.2 M 1198.4,413.9 L 1193.9,436.1 M 1173.4,424.7 C 1174.7,431 1178.5,434.2 1179.4,434.2 C 1184.8,436.7 1191.1,436.7 1193.9,436.1 C 1198.7,434.8 1201.9,432.3 1203.2,428.5 M 1174.4,446.2 C 1178.5,449.4 1187.3,450 1192.4,447.5 M 1172.9,452.8 C 1176.9,456 1185.8,456.6 1190.9,454.1 M 1171.4,459.4 C 1175.4,462.6 1184.3,463.2 1189.4,460.7 M 1169.9,466 C 1173.9,469.2 1182.8,469.8 1187.8,467.3 M 1169.6,466.5 C 1173.4,470.9 1183.5,472.2 1188.6,467.8 M 1171.5,470.9 C 1174.7,474.1 1182.3,474.7 1185.8,474.1"/>
<path class="w" d="M 1365.6,350.2 C 1365.8,345.2 1376,345.2 1376.6,350.9 L 1374.7,363.6 C 1379.8,365.5 1381,368.6 1381,371.2 L 1376.6,394 C 1374.7,397.8 1372.1,400.3 1368.3,401.6 L 1362,433.3 L 1359.2,439.6 L 1353.4,463.4 C 1352.5,467.5 1341.1,466.2 1339.8,461.1 L 1344.9,436.4 L 1343,432 L 1350.9,399.7 C 1348.1,397.8 1346.5,394 1346.8,390.2 L 1351.6,369.9 C 1352.5,364.8 1358.2,361 1362.6,363.6 Z"/>
<path class="s" d="M 1364.9,354 C 1367.7,355.9 1373.4,355.9 1376.2,354 M 1364.3,357.8 C 1367.1,359.8 1372.8,359.8 1375.6,357.8 M 1363.7,361.7 C 1366.4,363.6 1372.1,363.6 1374.9,361.7 M 1356.9,370.5 C 1357.6,376.2 1376,377.5 1379.8,370.5 M 1359.5,369.3 C 1360.7,373.7 1374.7,374.3 1377.5,369.3 M 1351.6,370.5 C 1353.1,381.3 1378.5,382.6 1381,371.2 M 1357.2,378.5 L 1352.8,399.7 M 1371.8,379.4 L 1367.3,401.6 M 1346.8,390.2 C 1348.1,396.5 1351.9,399.7 1352.8,399.7 C 1358.2,402.2 1364.5,402.2 1367.3,401.6 C 1372.1,400.3 1375.3,397.8 1376.6,394 M 1347.8,411.7 C 1351.9,414.9 1360.7,415.5 1365.8,413 M 1346.3,418.3 C 1350.3,421.5 1359.2,422.1 1364.3,419.6 M 1344.8,424.9 C 1348.8,428.1 1357.7,428.7 1362.8,426.2 M 1343.3,431.5 C 1347.3,434.7 1356.2,435.3 1361.2,432.8 M 1343,432 C 1346.8,436.4 1356.9,437.7 1362,433.3 M 1344.9,436.4 C 1348.1,439.6 1355.7,440.2 1359.2,439.6 M 847.5,488.4 L 894.3,490.9 M 1021.9,455.2 L 1069.1,456.2 M 1203.5,421.2 L 1251.7,423.1 M 1374.5,395.9 L 1421.5,400"/>
</g>
<g id="bot">
<rect x="605.4" y="1426.6" width="26" height="26" fill="#fff"/>
<rect x="594.3" y="1490.4" width="28" height="28" fill="#fff"/>
<rect x="567.2" y="1563.9" width="46" height="34" fill="#fff"/>
<path class="p" d="M 925.9,1292.6 C 903.6,1297.6 883.4,1322 870.2,1337.2"/>
<path d="M856.6,1342 L856.5,1344 L856.4,1346.3 L856.3,1349 L856.2,1351.9 L856,1355.1 L855.9,1358.5 L855.7,1362.2 L855.6,1366 L855.4,1370 L855.2,1374.1 L855,1378.3 L854.8,1382.6 L854.6,1386.9 L854.4,1391.3 L854.2,1395.7 L854,1400 L853.8,1404.3 L853.6,1408.7 L853.3,1413.1 L853.1,1417.5 L852.9,1422 L852.7,1426.6 L852.4,1431.3 L852.2,1436.1 L851.9,1441 L851.6,1446.1 L851.3,1451.3 L851,1456.7 L850.7,1462.2 L850.3,1467.9 L849.9,1473.9 L849.5,1480 L849,1486.4 L848.6,1493.2 L848,1500.3 L847.5,1507.7 L846.9,1515.2 L846.3,1522.9 L845.7,1530.8 L845.1,1538.8 L844.5,1546.7 L843.8,1554.7 L843.2,1562.6 L842.5,1570.5 L841.9,1578.2 L841.2,1585.7 L840.6,1593 L840,1600 L839.4,1606.9 L838.7,1613.9 L838.1,1621 L837.4,1628 L836.8,1635.1 L836.1,1642 L835.4,1648.9 L834.8,1655.6 L834.1,1662.2 L833.5,1668.5 L832.8,1674.6 L832.2,1680.4 L831.6,1685.9 L831.1,1691 L830.5,1695.7 L830,1700 L829.5,1703.8 L829,1707 L828.6,1709.7 L828.2,1712 L827.8,1714 L827.4,1715.7 L827,1717.1 L826.7,1718.4 L826.3,1719.5 L826,1720.7 L825.6,1721.8 L825.3,1723 L825,1724.4 L824.7,1726 L824.3,1727.8 L824,1730 L823.7,1732.5 L823.3,1735.1 L823,1737.9 L822.6,1740.8 L822.3,1743.8 L821.9,1746.9 L821.6,1750 L821.3,1753.2 L821,1756.3 L820.7,1759.4 L820.4,1762.5 L820.2,1765.5 L820,1768.3 L819.8,1771 L819.6,1773.6 L819.5,1776 L819.4,1778.2 L819.4,1780.3 L819.3,1782.4 L819.3,1784.3 L819.3,1786.1 L819.4,1787.9 L819.4,1789.6 L819.5,1791.2 L819.6,1792.8 L819.8,1794.3 L819.9,1795.8 L820.1,1797.3 L820.3,1798.7 L820.5,1800.1 L820.7,1801.6 L821,1803 L821.3,1804.4 L821.6,1805.8 L821.9,1807.1 L822.3,1808.4 L822.6,1809.7 L823,1810.9 L823.5,1812.1 L823.9,1813.2 L824.4,1814.4 L824.8,1815.5 L825.3,1816.6 L825.8,1817.7 L826.4,1818.8 L826.9,1819.9 L827.4,1820.9 L828,1822 L828.6,1823 L829.1,1824.1 L829.7,1825.1 L830.2,1826 L830.8,1827 L831.4,1827.9 L832,1828.8 L832.6,1829.8 L833.3,1830.7 L834,1831.6 L834.7,1832.4 L835.5,1833.3 L836.3,1834.2 L837.1,1835.2 L838,1836.1 L839,1837 L840,1837.9 L841,1838.8 L842,1839.6 L843,1840.4 L844,1841.2 L845,1841.9 L846.1,1842.7 L847.3,1843.5 L848.5,1844.4 L849.9,1845.2 L851.3,1846.2 L852.8,1847.2 L854.4,1848.2 L856.1,1849.4 L858,1850.6 L860,1852 L862.2,1853.5 L864.5,1855.1 L867,1856.8 L869.7,1858.5 L872.4,1860.4 L875.3,1862.3 L878.2,1864.3 L881.2,1866.3 L884.3,1868.3 L887.4,1870.4 L890.6,1872.4 L893.7,1874.5 L896.8,1876.6 L899.9,1878.6 L903,1880.6 L906,1882.5 L909,1884.4 L912,1886.3 L915,1888.2 L918.1,1890.1 L921.1,1892 L924.2,1894 L927.3,1895.9 L930.4,1897.8 L933.5,1899.7 L936.6,1901.6 L939.7,1903.5 L942.8,1905.4 L945.8,1907.3 L948.9,1909.2 L952,1911.1 L955,1913 L958.1,1914.9 L961.4,1917 L964.7,1919.1 L968.2,1921.2 L971.7,1923.4 L975.2,1925.6 L978.7,1927.8 L982.1,1929.9 L985.4,1932 L988.6,1934 L991.6,1935.9 L994.4,1937.6 L997,1939.2 L999.3,1940.7 L1001.3,1941.9 L1003,1943" fill="none" stroke="#fff" stroke-width="36" stroke-linejoin="round"/>
<path class="hz" d="M874.1,1342.8 C873.6,1352.7 838.7,1351.2 839.1,1341.2 M871,1344.8 C870.6,1353.8 845.6,1352.7 846,1343.7 M873.8,1349.3 C873.4,1359.3 838.4,1357.8 838.8,1347.9 M870.7,1351.4 C870.3,1360.4 845.4,1359.3 845.7,1350.3 M873.5,1355.9 C873.1,1365.9 838.1,1364.4 838.6,1354.5 M870.4,1358 C870.1,1367 845.1,1365.9 845.5,1356.9 M873.2,1362.5 C872.8,1372.5 837.9,1371 838.3,1361 M870.2,1364.6 C869.8,1373.6 844.8,1372.5 845.2,1363.5 M873,1369.1 C872.5,1379.1 837.6,1377.6 838,1367.6 M869.9,1371.2 C869.5,1380.2 844.5,1379.1 844.9,1370.1 M872.7,1375.8 C872.2,1385.7 837.3,1384.2 837.7,1374.2 M869.6,1377.8 C869.2,1386.8 844.2,1385.7 844.6,1376.7 M872.4,1382.4 C871.9,1392.3 837,1390.7 837.4,1380.8 M869.3,1384.4 C868.9,1393.4 843.9,1392.3 844.3,1383.3 M872.1,1389 C871.6,1399 836.6,1397.3 837.1,1387.3 M869,1391 C868.5,1400 843.6,1398.8 844,1389.9 M871.7,1395.6 C871.3,1405.6 836.3,1403.9 836.8,1393.9 M868.6,1397.7 C868.2,1406.6 843.2,1405.4 843.7,1396.4 M871.4,1402.2 C870.9,1412.2 835.9,1410.4 836.5,1400.5 M868.3,1404.3 C867.8,1413.3 842.9,1412 843.3,1403 M871.1,1408.8 C870.6,1418.8 835.6,1417 836.1,1407.1 M868,1410.9 C867.5,1419.8 842.6,1418.6 843,1409.6 M870.8,1415.4 C870.3,1425.3 835.3,1423.6 835.8,1413.7 M867.6,1417.4 C867.2,1426.4 842.2,1425.2 842.7,1416.2 M870.4,1422 C869.9,1431.9 835,1430.2 835.5,1420.2 M867.3,1424 C866.9,1433 841.9,1431.8 842.4,1422.8 M870.1,1428.6 C869.6,1438.6 834.6,1436.8 835.1,1426.8 M867,1430.6 C866.5,1439.6 841.6,1438.4 842,1429.4 M869.8,1435.2 C869.2,1445.2 834.3,1443.3 834.8,1433.4 M866.6,1437.3 C866.2,1446.2 841.2,1444.9 841.7,1435.9 M869.4,1441.8 C868.9,1451.8 833.9,1449.9 834.5,1440 M866.3,1443.9 C865.8,1452.8 840.8,1451.5 841.3,1442.5 M869,1448.5 C868.5,1458.4 833.5,1456.4 834.1,1446.5 M865.9,1450.5 C865.4,1459.5 840.4,1458.1 840.9,1449.1 M868.6,1455.1 C868.1,1465.1 833.1,1463 833.7,1453 M865.5,1457.1 C865,1466.1 840,1464.6 840.6,1455.6 M868.2,1461.7 C867.6,1471.7 832.7,1469.5 833.3,1459.6 M865.1,1463.7 C864.6,1472.7 839.6,1471.2 840.2,1462.2 M867.8,1468.4 C867.2,1478.3 832.3,1476.1 832.9,1466.1 M864.7,1470.4 C864.1,1479.3 839.2,1477.8 839.7,1468.8 M867.4,1475 C866.7,1484.9 831.8,1482.6 832.5,1472.7 M864.2,1477 C863.7,1486 838.7,1484.3 839.3,1475.3 M866.9,1481.6 C866.2,1491.6 831.3,1489.1 832,1479.2 M863.8,1483.6 C863.1,1492.6 838.2,1490.8 838.8,1481.9 M866.5,1488.3 C865.7,1498.2 830.8,1495.7 831.5,1485.7 M863.3,1490.2 C862.7,1499.2 837.7,1497.4 838.4,1488.4 M866,1494.9 C865.3,1504.8 830.3,1502.2 831.1,1492.3 M862.8,1496.8 C862.2,1505.8 837.2,1504 837.9,1495 M865.5,1501.4 C864.8,1511.4 829.9,1508.8 830.6,1498.9 M862.3,1503.4 C861.7,1512.4 836.8,1510.6 837.4,1501.6 M865,1508 C864.3,1518 829.4,1515.4 830.1,1505.4 M861.9,1510 C861.2,1519 836.3,1517.1 836.9,1508.2 M864.5,1514.6 C863.8,1524.6 828.9,1522 829.6,1512 M861.4,1516.6 C860.7,1525.6 835.7,1523.7 836.4,1514.7 M864,1521.2 C863.2,1531.2 828.3,1528.5 829.1,1518.6 M860.8,1523.2 C860.2,1532.2 835.2,1530.3 835.9,1521.3 M863.5,1527.8 C862.7,1537.8 827.8,1535.1 828.6,1525.1 M860.3,1529.8 C859.6,1538.8 834.7,1536.8 835.4,1527.9 M863,1534.4 C862.2,1544.4 827.3,1541.6 828.1,1531.7 M859.8,1536.4 C859.1,1545.4 834.2,1543.4 834.9,1534.4 M862.5,1541 C861.7,1551 826.8,1548.2 827.6,1538.3 M859.3,1543 C858.6,1552 833.7,1550 834.4,1541 M861.9,1547.6 C861.2,1557.6 826.3,1554.8 827.1,1544.8 M858.8,1549.6 C858.1,1558.5 833.1,1556.6 833.9,1547.6 M861.4,1554.2 C860.6,1564.1 825.7,1561.3 826.5,1551.4 M858.2,1556.2 C857.5,1565.1 832.6,1563.1 833.3,1554.2 M860.9,1560.8 C860.1,1570.7 825.2,1567.9 826,1558 M857.7,1562.8 C857,1571.7 832.1,1569.7 832.8,1560.7 M860.3,1567.4 C859.5,1577.3 824.6,1574.5 825.5,1564.5 M857.2,1569.3 C856.4,1578.3 831.5,1576.3 832.3,1567.3 M859.8,1574 C859,1583.9 824.1,1581 824.9,1571.1 M856.6,1575.9 C855.9,1584.9 831,1582.8 831.7,1573.9 M859.2,1580.6 C858.4,1590.5 823.5,1587.6 824.4,1577.6 M856.1,1582.5 C855.3,1591.5 830.4,1589.4 831.2,1580.4 M858.7,1587.2 C857.8,1597.1 823,1594.1 823.8,1584.2 M855.5,1589.1 C854.7,1598.1 829.8,1595.9 830.6,1587 M858.1,1593.8 C857.3,1603.7 822.4,1600.7 823.2,1590.8 M854.9,1595.7 C854.2,1604.7 829.3,1602.5 830,1593.6 M857.5,1600.4 C856.7,1610.3 821.8,1607.2 822.7,1597.3 M854.4,1602.3 C853.6,1611.3 828.7,1609.1 829.4,1600.1 M856.9,1607 C856.1,1616.9 821.2,1613.8 822.1,1603.9 M853.8,1608.9 C853,1617.9 828.1,1615.6 828.9,1606.7 M856.4,1613.6 C855.5,1623.5 820.6,1620.3 821.5,1610.4 M853.2,1615.5 C852.4,1624.5 827.5,1622.2 828.3,1613.2 M855.7,1620.2 C854.8,1630.1 820,1626.9 820.9,1617 M852.6,1622.1 C851.7,1631 826.8,1628.8 827.7,1619.8 M855.1,1626.8 C854.2,1636.7 819.4,1633.4 820.3,1623.5 M851.9,1628.7 C851.1,1637.6 826.2,1635.3 827.1,1626.3 M854.5,1633.3 C853.6,1643.3 818.7,1640 819.7,1630.1 M851.3,1635.3 C850.5,1644.2 825.6,1641.9 826.4,1632.9 M853.9,1639.9 C852.9,1649.9 818.1,1646.5 819.1,1636.6 M850.7,1641.8 C849.8,1650.8 825,1648.4 825.8,1639.5 M853.3,1646.5 C852.3,1656.5 817.5,1653.1 818.4,1643.2 M850.1,1648.4 C849.2,1657.4 824.3,1655 825.2,1646 M852.6,1653.1 C851.6,1663.1 816.8,1659.6 817.8,1649.7 M849.4,1655 C848.5,1664 823.6,1661.5 824.5,1652.6 M852,1659.7 C851,1669.7 816.1,1666.2 817.1,1656.2 M848.8,1661.6 C847.9,1670.6 823,1668.1 823.9,1659.1 M851.3,1666.3 C850.3,1676.2 815.5,1672.7 816.5,1662.8 M848.1,1668.2 C847.2,1677.2 822.3,1674.6 823.2,1665.7 M850.6,1672.9 C849.6,1682.8 814.8,1679.2 815.8,1669.3 M847.4,1674.8 C846.5,1683.8 821.6,1681.2 822.5,1672.2 M849.9,1679.5 C848.9,1689.4 814.1,1685.7 815.1,1675.8 M846.7,1681.4 C845.8,1690.3 820.9,1687.7 821.8,1678.8 M849.2,1686.1 C848.1,1696 813.3,1692.3 814.4,1682.3 M846,1688 C845,1696.9 820.2,1694.2 821.1,1685.3 M848.5,1692.7 C847.4,1702.7 812.6,1698.8 813.7,1688.9 M845.2,1694.6 C844.2,1703.5 819.4,1700.8 820.4,1691.8 M847.7,1699.4 C846.5,1709.3 811.8,1705.2 812.9,1695.3 M844.5,1701.3 C843.4,1710.2 818.6,1707.2 819.6,1698.3 M846.8,1706.4 C845.4,1716.3 810.7,1711.3 812.2,1701.4 M843.5,1708.1 C842.2,1717.1 817.5,1713.5 818.8,1704.6 M845.7,1713.6 C843.9,1723.4 809.5,1717.1 811.3,1707.3 M842.4,1715.2 C840.7,1724 816.1,1719.6 817.8,1710.7 M844,1721.3 C841.5,1730.9 807.6,1722.1 810.1,1712.5 M840.6,1722.7 C838.3,1731.4 814.1,1725.1 816.4,1716.4 M842.3,1727.3 C840,1737 805.9,1728.9 808.2,1719.2 M838.9,1728.7 C836.8,1737.5 812.4,1731.7 814.5,1722.9 M841.4,1732.3 C839.9,1742.1 805.3,1737 806.7,1727.1 M838.1,1734 C836.7,1742.9 812,1739.2 813.3,1730.3 M840.6,1738.4 C839.3,1748.3 804.6,1744 805.8,1734.1 M837.3,1740.2 C836.2,1749.1 811.4,1746.1 812.5,1737.1 M839.8,1744.8 C838.6,1754.7 803.9,1750.7 805,1740.8 M836.6,1746.6 C835.5,1755.6 810.7,1752.7 811.7,1743.8 M839.1,1751.2 C838,1761.1 803.2,1757.4 804.3,1747.5 M835.9,1753.1 C834.9,1762 810,1759.4 811,1750.4 M838.4,1757.6 C837.5,1767.6 802.6,1764.1 803.6,1754.2 M835.2,1759.5 C834.3,1768.5 809.5,1766 810.3,1757.1 M837.9,1763.9 C837,1773.9 802.2,1771 803,1761.1 M834.7,1765.9 C833.9,1774.8 809,1772.8 809.8,1763.8 M837.4,1770.3 C836.7,1780.2 801.8,1777.8 802.4,1767.9 M834.2,1772.3 C833.6,1781.2 808.7,1779.5 809.3,1770.6 M837,1776.5 C836.5,1786.5 801.6,1784.8 802,1774.8 M833.9,1778.6 C833.5,1787.5 808.5,1786.3 808.9,1777.4 M836.8,1782.5 C836.7,1792.5 801.7,1792 801.8,1782 M833.8,1784.7 C833.7,1793.7 808.7,1793.3 808.8,1784.3 M836.9,1788.2 C837.3,1798.2 802.3,1799.5 801.9,1789.5 M834,1790.5 C834.3,1799.5 809.3,1800.4 809,1791.5 M837.3,1793.7 C838.3,1803.6 803.5,1807.1 802.5,1797.2 M834.5,1796.2 C835.5,1805.1 810.6,1807.6 809.7,1798.7 M838,1798.9 C839.8,1808.7 805.3,1814.9 803.6,1805 M835.5,1801.6 C837.1,1810.5 812.4,1814.8 810.9,1806 M839,1803.4 C841.9,1812.9 808.4,1823 805.5,1813.4 M836.8,1806.3 C839.4,1815 815.4,1822.2 812.8,1813.5 M840.6,1807.8 C844.5,1817 812.2,1830.6 808.3,1821.4 M838.7,1811 C842.2,1819.3 819.2,1829 815.7,1820.7 M842.8,1812.6 C847.4,1821.5 816.2,1837.5 811.7,1828.6 M841.2,1815.9 C845.3,1823.9 823,1835.4 818.9,1827.3 M845.4,1817.4 C850.6,1825.9 820.6,1843.9 815.4,1835.4 M844,1820.8 C848.6,1828.5 827.2,1841.4 822.6,1833.7 M847.8,1820.8 C854.1,1828.6 826.8,1850.6 820.6,1842.8 M846.8,1824.4 C852.5,1831.4 833,1847.1 827.4,1840.1 M850.8,1824 C858,1830.9 833.7,1856.2 826.5,1849.3 M850.3,1827.7 C856.8,1834 839.5,1852 833,1845.8 M854.3,1827 C862.2,1833.1 841,1860.9 833.1,1854.9 M854.2,1830.7 C861.4,1836.2 846.2,1856.1 839.1,1850.6 M858.8,1830.2 C867.1,1835.7 847.7,1864.8 839.4,1859.3 M859,1833.9 C866.4,1838.9 852.6,1859.7 845.1,1854.7 M864.3,1833.8 C872.6,1839.3 853.2,1868.5 844.9,1862.9 M864.4,1837.5 C871.9,1842.5 858.1,1863.3 850.6,1858.3 M869.9,1837.6 C878.1,1843.2 858.5,1872.1 850.2,1866.5 M870,1841.3 C877.5,1846.3 863.4,1867 856,1862 M875.3,1841.2 C883.6,1846.8 864,1875.8 855.7,1870.3 M875.5,1845 C882.9,1850 868.9,1870.7 861.5,1865.7 M880.8,1844.9 C889,1850.5 869.5,1879.5 861.2,1874 M880.9,1848.6 C888.4,1853.6 874.4,1874.4 867,1869.4 M886.2,1848.6 C894.5,1854.1 875.1,1883.2 866.8,1877.7 M886.4,1852.3 C893.9,1857.3 880,1878.1 872.5,1873.1 M891.7,1852.2 C900,1857.7 880.6,1886.9 872.3,1881.3 M891.8,1855.9 C899.3,1860.9 885.5,1881.7 878,1876.7 M897.1,1855.8 C905.4,1861.3 886.2,1890.5 877.8,1885 M897.3,1859.5 C904.8,1864.5 891,1885.3 883.5,1880.4 M902.6,1859.4 C910.9,1864.9 891.7,1894.1 883.4,1888.7 M902.8,1863.1 C910.3,1868.1 896.6,1889 889.1,1884 M908.1,1863 C916.4,1868.4 897.3,1897.8 889,1892.3 M908.3,1866.7 C915.8,1871.6 902.2,1892.6 894.6,1887.7 M913.5,1866.5 C921.9,1871.9 903,1901.4 894.6,1896 M913.8,1870.2 C921.3,1875.1 907.8,1896.1 900.2,1891.3 M919,1870 C927.4,1875.4 908.7,1904.9 900.2,1899.6 M919.2,1873.7 C926.8,1878.6 913.4,1899.7 905.8,1894.9 M924.5,1873.5 C932.9,1878.8 914.3,1908.5 905.9,1903.2 M924.8,1877.2 C932.4,1882 919.1,1903.2 911.5,1898.4 M930.1,1877 C938.5,1882.3 920,1912 911.5,1906.7 M930.3,1880.7 C938,1885.5 924.7,1906.7 917.1,1901.9 M935.6,1880.4 C944.1,1885.7 925.7,1915.4 917.2,1910.2 M935.9,1884.2 C943.6,1888.9 930.4,1910.1 922.7,1905.4 M941.2,1883.9 C949.7,1889.1 931.3,1918.9 922.8,1913.7 M941.5,1887.6 C949.2,1892.3 936,1913.6 928.4,1908.9 M946.8,1887.4 C955.3,1892.6 936.9,1922.4 928.4,1917.2 M947.1,1891.1 C954.8,1895.8 941.7,1917.1 934,1912.3 M952.4,1890.8 C960.9,1896.1 942.5,1925.8 934.1,1920.6 M952.7,1894.5 C960.4,1899.3 947.3,1920.5 939.6,1915.8 M958.1,1894.3 C966.5,1899.5 948.1,1929.3 939.7,1924.1 M958.4,1898 C966,1902.7 952.9,1924 945.2,1919.3 M963.7,1897.8 C972.2,1903.1 953.7,1932.8 945.2,1927.5 M964,1901.5 C971.6,1906.3 958.4,1927.5 950.8,1922.7 M969.3,1901.3 C977.8,1906.6 959.3,1936.3 950.8,1931 M969.6,1905 C977.2,1909.8 964,1931 956.4,1926.2 M974.9,1904.8 C983.4,1910.1 964.9,1939.8 956.4,1934.5 M975.2,1908.5 C982.8,1913.3 969.6,1934.5 962,1929.7 M980.5,1908.3 C989,1913.6 970.4,1943.3 962,1938 M980.8,1912 C988.4,1916.8 975.2,1938 967.6,1933.2 M986.1,1911.8 C994.6,1917.1 976,1946.8 967.6,1941.5 M986.4,1915.5 C994,1920.3 980.8,1941.5 973.2,1936.7 M991.7,1915.3 C1000.2,1920.6 981.6,1950.3 973.2,1945 M992,1919 C999.6,1923.8 986.4,1945 978.8,1940.2 M997.3,1918.8 C1005.8,1924.1 987.2,1953.8 978.8,1948.5 M997.6,1922.5 C1005.2,1927.3 992,1948.5 984.3,1943.7 M1002.9,1922.3 C1011.4,1927.6 992.8,1957.3 984.4,1952 M1003.2,1926 C1010.8,1930.8 997.6,1952 989.9,1947.2 M1008.5,1925.8 C1017,1931.1 998.4,1960.8 990,1955.5 M1008.8,1929.5 C1016.4,1934.3 1003.2,1955.5 995.5,1950.7"/>
<path class="hz" d="M874.1,1342.8 Q876.5,1346.2 873.8,1349.3 M839.1,1341.2 Q836.4,1344.4 838.8,1347.9 M873.8,1349.3 Q876.3,1352.7 873.5,1355.9 M838.8,1347.9 Q836.1,1351 838.6,1354.5 M873.5,1355.9 Q876,1359.3 873.2,1362.5 M838.6,1354.5 Q835.8,1357.6 838.3,1361 M873.2,1362.5 Q875.7,1365.9 873,1369.1 M838.3,1361 Q835.5,1364.2 838,1367.6 M873,1369.1 Q875.4,1372.6 872.7,1375.8 M838,1367.6 Q835.3,1370.8 837.7,1374.2 M872.7,1375.8 Q875.1,1379.2 872.4,1382.4 M837.7,1374.2 Q835,1377.4 837.4,1380.8 M872.4,1382.4 Q874.8,1385.8 872.1,1389 M837.4,1380.8 Q834.7,1383.9 837.1,1387.3 M872.1,1389 Q874.5,1392.4 871.7,1395.6 M837.1,1387.3 Q834.3,1390.5 836.8,1393.9 M871.7,1395.6 Q874.2,1399 871.4,1402.2 M836.8,1393.9 Q834,1397 836.5,1400.5 M871.4,1402.2 Q873.8,1405.6 871.1,1408.8 M836.5,1400.5 Q833.7,1403.6 836.1,1407.1 M871.1,1408.8 Q873.5,1412.2 870.8,1415.4 M836.1,1407.1 Q833.4,1410.2 835.8,1413.7 M870.8,1415.4 Q873.2,1418.8 870.4,1422 M835.8,1413.7 Q833,1416.8 835.5,1420.2 M870.4,1422 Q872.9,1425.4 870.1,1428.6 M835.5,1420.2 Q832.7,1423.4 835.1,1426.8 M870.1,1428.6 Q872.5,1432 869.8,1435.2 M835.1,1426.8 Q832.4,1430 834.8,1433.4 M869.8,1435.2 Q872.2,1438.7 869.4,1441.8 M834.8,1433.4 Q832,1436.5 834.5,1440 M869.4,1441.8 Q871.8,1445.3 869,1448.5 M834.5,1440 Q831.7,1443.1 834.1,1446.5 M869,1448.5 Q871.4,1451.9 868.6,1455.1 M834.1,1446.5 Q831.3,1449.6 833.7,1453 M868.6,1455.1 Q871,1458.6 868.2,1461.7 M833.7,1453 Q830.9,1456.1 833.3,1459.6 M868.2,1461.7 Q870.6,1465.2 867.8,1468.4 M833.3,1459.6 Q830.5,1462.7 832.9,1466.1 M867.8,1468.4 Q870.2,1471.8 867.4,1475 M832.9,1466.1 Q830.1,1469.2 832.5,1472.7 M867.4,1475 Q869.8,1478.5 866.9,1481.6 M832.5,1472.7 Q829.6,1475.7 832,1479.2 M866.9,1481.6 Q869.3,1485.1 866.5,1488.3 M832,1479.2 Q829.2,1482.3 831.5,1485.7 M866.5,1488.3 Q868.8,1491.7 866,1494.9 M831.5,1485.7 Q828.7,1488.8 831.1,1492.3 M866,1494.9 Q868.3,1498.3 865.5,1501.4 M831.1,1492.3 Q828.2,1495.4 830.6,1498.9 M865.5,1501.4 Q867.8,1504.9 865,1508 M830.6,1498.9 Q827.8,1502 830.1,1505.4 M865,1508 Q867.4,1511.5 864.5,1514.6 M830.1,1505.4 Q827.3,1508.5 829.6,1512 M864.5,1514.6 Q866.9,1518.1 864,1521.2 M829.6,1512 Q826.8,1515.1 829.1,1518.6 M864,1521.2 Q866.3,1524.7 863.5,1527.8 M829.1,1518.6 Q826.3,1521.7 828.6,1525.1 M863.5,1527.8 Q865.8,1531.3 863,1534.4 M828.6,1525.1 Q825.8,1528.2 828.1,1531.7 M863,1534.4 Q865.3,1537.9 862.5,1541 M828.1,1531.7 Q825.2,1534.8 827.6,1538.3 M862.5,1541 Q864.8,1544.5 861.9,1547.6 M827.6,1538.3 Q824.7,1541.3 827.1,1544.8 M861.9,1547.6 Q864.3,1551.1 861.4,1554.2 M827.1,1544.8 Q824.2,1547.9 826.5,1551.4 M861.4,1554.2 Q863.7,1557.7 860.9,1560.8 M826.5,1551.4 Q823.7,1554.5 826,1558 M860.9,1560.8 Q863.2,1564.3 860.3,1567.4 M826,1558 Q823.1,1561 825.5,1564.5 M860.3,1567.4 Q862.7,1570.9 859.8,1574 M825.5,1564.5 Q822.6,1567.6 824.9,1571.1 M859.8,1574 Q862.1,1577.5 859.2,1580.6 M824.9,1571.1 Q822,1574.1 824.4,1577.6 M859.2,1580.6 Q861.6,1584.1 858.7,1587.2 M824.4,1577.6 Q821.5,1580.7 823.8,1584.2 M858.7,1587.2 Q861,1590.7 858.1,1593.8 M823.8,1584.2 Q820.9,1587.3 823.2,1590.8 M858.1,1593.8 Q860.4,1597.3 857.5,1600.4 M823.2,1590.8 Q820.4,1593.8 822.7,1597.3 M857.5,1600.4 Q859.8,1603.9 856.9,1607 M822.7,1597.3 Q819.8,1600.4 822.1,1603.9 M856.9,1607 Q859.2,1610.5 856.4,1613.6 M822.1,1603.9 Q819.2,1606.9 821.5,1610.4 M856.4,1613.6 Q858.6,1617.1 855.7,1620.2 M821.5,1610.4 Q818.6,1613.4 820.9,1617 M855.7,1620.2 Q858,1623.7 855.1,1626.8 M820.9,1617 Q818,1620 820.3,1623.5 M855.1,1626.8 Q857.4,1630.3 854.5,1633.3 M820.3,1623.5 Q817.4,1626.5 819.7,1630.1 M854.5,1633.3 Q856.8,1636.9 853.9,1639.9 M819.7,1630.1 Q816.8,1633.1 819.1,1636.6 M853.9,1639.9 Q856.2,1643.5 853.3,1646.5 M819.1,1636.6 Q816.1,1639.6 818.4,1643.2 M853.3,1646.5 Q855.5,1650.1 852.6,1653.1 M818.4,1643.2 Q815.5,1646.2 817.8,1649.7 M852.6,1653.1 Q854.9,1656.7 852,1659.7 M817.8,1649.7 Q814.9,1652.7 817.1,1656.2 M852,1659.7 Q854.2,1663.3 851.3,1666.3 M817.1,1656.2 Q814.2,1659.2 816.5,1662.8 M851.3,1666.3 Q853.5,1669.9 850.6,1672.9 M816.5,1662.8 Q813.6,1665.8 815.8,1669.3 M850.6,1672.9 Q852.9,1676.5 849.9,1679.5 M815.8,1669.3 Q812.9,1672.3 815.1,1675.8 M849.9,1679.5 Q852.1,1683.1 849.2,1686.1 M815.1,1675.8 Q812.2,1678.8 814.4,1682.3 M849.2,1686.1 Q851.4,1689.7 848.5,1692.7 M814.4,1682.3 Q811.5,1685.3 813.7,1688.9 M848.5,1692.7 Q850.7,1696.4 847.7,1699.4 M813.7,1688.9 Q810.7,1691.7 812.9,1695.3 M847.7,1699.4 Q849.8,1703.3 846.8,1706.4 M812.9,1695.3 Q810,1698 812.2,1701.4 M846.8,1706.4 Q848.8,1710.4 845.7,1713.6 M812.2,1701.4 Q809.2,1703.9 811.3,1707.3 M845.7,1713.6 Q847.4,1718.1 844,1721.3 M811.3,1707.3 Q808.2,1709.2 810.1,1712.5 M844,1721.3 Q845.7,1724.9 842.3,1727.3 M810.1,1712.5 Q806.7,1715.2 808.2,1719.2 M842.3,1727.3 Q844.4,1730.2 841.4,1732.3 M808.2,1719.2 Q804.9,1722.8 806.7,1727.1 M841.4,1732.3 Q843.5,1735.7 840.6,1738.4 M806.7,1727.1 Q803.7,1730.3 805.8,1734.1 M840.6,1738.4 Q842.8,1741.9 839.8,1744.8 M805.8,1734.1 Q802.8,1737.1 805,1740.8 M839.8,1744.8 Q842,1748.3 839.1,1751.2 M805,1740.8 Q802.1,1743.9 804.3,1747.5 M839.1,1751.2 Q841.3,1754.7 838.4,1757.6 M804.3,1747.5 Q801.3,1750.6 803.6,1754.2 M838.4,1757.6 Q840.7,1761 837.9,1763.9 M803.6,1754.2 Q800.7,1757.4 803,1761.1 M837.9,1763.9 Q840.2,1767.3 837.4,1770.3 M803,1761.1 Q800.1,1764.3 802.4,1767.9 M837.4,1770.3 Q839.8,1773.5 837,1776.5 M802.4,1767.9 Q799.6,1771.2 802,1774.8 M837,1776.5 Q839.5,1779.6 836.8,1782.5 M802,1774.8 Q799.3,1778.4 801.8,1782 M836.8,1782.5 Q839.5,1785.3 836.9,1788.2 M801.8,1782 Q799.3,1785.8 801.9,1789.5 M836.9,1788.2 Q839.7,1790.7 837.3,1793.7 M801.9,1789.5 Q799.6,1793.6 802.5,1797.2 M837.3,1793.7 Q840.2,1795.8 838,1798.9 M802.5,1797.2 Q800.5,1801.6 803.6,1805 M838,1798.9 Q841,1800.4 839,1803.4 M803.6,1805 Q802.1,1810 805.5,1813.4 M839,1803.4 Q842.2,1804.6 840.6,1807.8 M805.5,1813.4 Q804.5,1818.5 808.3,1821.4 M840.6,1807.8 Q844,1809 842.8,1812.6 M808.3,1821.4 Q807.7,1826.2 811.7,1828.6 M842.8,1812.6 Q846.4,1813.7 845.4,1817.4 M811.7,1828.6 Q811.3,1833.3 815.4,1835.4 M845.4,1817.4 Q848.6,1817.5 847.8,1820.8 M815.4,1835.4 Q816,1840.7 820.6,1842.8 M847.8,1820.8 Q851.1,1820.6 850.8,1824 M820.6,1842.8 Q821.7,1847.9 826.5,1849.3 M850.8,1824 Q854.1,1823.5 854.3,1827 M826.5,1849.3 Q828.2,1854.1 833.1,1854.9 M854.3,1827 Q858,1826.4 858.8,1830.2 M833.1,1854.9 Q834.8,1859.2 839.4,1859.3 M858.8,1830.2 Q863,1829.8 864.3,1833.8 M839.4,1859.3 Q840.7,1863.3 844.9,1862.9 M864.3,1833.8 Q868.5,1833.5 869.9,1837.6 M844.9,1862.9 Q846.1,1866.9 850.2,1866.5 M869.9,1837.6 Q874.1,1837.2 875.3,1841.2 M850.2,1866.5 Q851.5,1870.5 855.7,1870.3 M875.3,1841.2 Q879.5,1840.9 880.8,1844.9 M855.7,1870.3 Q857,1874.3 861.2,1874 M880.8,1844.9 Q884.9,1844.6 886.2,1848.6 M861.2,1874 Q862.6,1878 866.8,1877.7 M886.2,1848.6 Q890.4,1848.2 891.7,1852.2 M866.8,1877.7 Q868.1,1881.7 872.3,1881.3 M891.7,1852.2 Q895.8,1851.8 897.1,1855.8 M872.3,1881.3 Q873.6,1885.4 877.8,1885 M897.1,1855.8 Q901.3,1855.4 902.6,1859.4 M877.8,1885 Q879.2,1889 883.4,1888.7 M902.6,1859.4 Q906.8,1859 908.1,1863 M883.4,1888.7 Q884.8,1892.7 889,1892.3 M908.1,1863 Q912.2,1862.6 913.5,1866.5 M889,1892.3 Q890.4,1896.3 894.6,1896 M913.5,1866.5 Q917.7,1866.1 919,1870 M894.6,1896 Q896,1900 900.2,1899.6 M919,1870 Q923.1,1869.6 924.5,1873.5 M900.2,1899.6 Q901.7,1903.6 905.9,1903.2 M924.5,1873.5 Q928.6,1873 930.1,1877 M905.9,1903.2 Q907.3,1907.1 911.5,1906.7 M930.1,1877 Q934.2,1876.5 935.6,1880.4 M911.5,1906.7 Q913,1910.6 917.2,1910.2 M935.6,1880.4 Q939.8,1880 941.2,1883.9 M917.2,1910.2 Q918.6,1914.2 922.8,1913.7 M941.2,1883.9 Q945.4,1883.4 946.8,1887.4 M922.8,1913.7 Q924.3,1917.6 928.4,1917.2 M946.8,1887.4 Q951,1886.9 952.4,1890.8 M928.4,1917.2 Q929.9,1921.1 934.1,1920.6 M952.4,1890.8 Q956.6,1890.4 958.1,1894.3 M934.1,1920.6 Q935.5,1924.5 939.7,1924.1 M958.1,1894.3 Q962.3,1893.8 963.7,1897.8 M939.7,1924.1 Q941.1,1928 945.2,1927.5 M963.7,1897.8 Q967.9,1897.4 969.3,1901.3 M945.2,1927.5 Q946.6,1931.5 950.8,1931 M969.3,1901.3 Q973.5,1900.9 974.9,1904.8 M950.8,1931 Q952.2,1935 956.4,1934.5 M974.9,1904.8 Q979.1,1904.4 980.5,1908.3 M956.4,1934.5 Q957.8,1938.5 962,1938 M980.5,1908.3 Q984.7,1907.9 986.1,1911.8 M962,1938 Q963.4,1941.9 967.6,1941.5 M986.1,1911.8 Q990.3,1911.4 991.7,1915.3 M967.6,1941.5 Q969,1945.4 973.2,1945 M991.7,1915.3 Q995.9,1914.9 997.3,1918.8 M973.2,1945 Q974.6,1948.9 978.8,1948.5 M997.3,1918.8 Q1001.5,1918.4 1002.9,1922.3 M978.8,1948.5 Q980.2,1952.4 984.4,1952 M1002.9,1922.3 Q1007.1,1921.9 1008.5,1925.8 M984.4,1952 Q985.8,1955.9 990,1955.5"/>
<path class="p" d="M 1012.5,1940.3 C 1033.8,1952.5 1052,1970.7 1052,1992 L 1047.5,2016.3 M 1000.3,1958.6 C 1018.6,1964.6 1030.7,1976.8 1029.2,1992 L 1023.1,2016.3 M 1047.3,2018.8 A 12.2 7.6 -10 1 0 1023.3,2023 A 12.2 7.6 -10 1 0 1047.3,2018.8 Z"/>
<path class="t" d="M 1035,2021.8 A 3.7 3.7 0 1 0 1027.7,2021.8 A 3.7 3.7 0 1 0 1035,2021.8 Z"/>
<path class="w" d="M 1030.7,2063.5 A 15.2 12.8 0 1 0 1000.3,2063.5 A 15.2 12.8 0 1 0 1030.7,2063.5 Z"/>
<path class="s" d="M 1023.7,2064.1 A 8.2 7 0 1 0 1007.3,2064.1 A 8.2 7 0 1 0 1023.7,2064.1 Z"/>
<path class="w" d="M 1005.8,2038.3 L 1011.9,2034.6 L 1036.2,2043.7 L 1033.8,2053.5 L 1010,2050.4 Z"/>
<path class="s" d="M 1014,2042.2 L 1027.7,2046.8 L 1024.6,2049.8"/>
<path class="w" d="M 994.2,2095.4 C 994.2,2089.4 1007,2089.4 1007,2095.4 L 1000.9,2115.2 L 1013.1,2131.9 L 1000.3,2136.5 L 988.1,2117.3 Z"/>
<path class="w" d="M 1003.3,2138 C 1012.5,2127.4 1027.7,2125.9 1036.8,2135 L 1042.9,2147.1 C 1052,2144.1 1061.1,2147.1 1065.1,2150.2 L 1059.6,2173 C 1049,2171.5 1039.8,2170.9 1033.8,2170 L 1029.2,2177.6 C 1024.6,2182.1 1017,2181.2 1012.5,2177.6 C 1000.3,2168.4 995.7,2147.1 1003.3,2138 Z"/>
<path class="s" d="M 1029.2,2156.3 A 14.6 21.3 -12 1 0 1000.6,2162.4 A 14.6 21.3 -12 1 0 1029.2,2156.3 Z M 1021.1,2158.4 A 7.3 11.6 -12 1 0 1006.9,2161.4 A 7.3 11.6 -12 1 0 1021.1,2158.4 Z M 1064.2,2150.2 C 1056.6,2153.2 1053.5,2168.4 1058.1,2173"/>
<path class="c2" d="M 1064.2,2150.2 L 1155.4,2200.4 M 1057.5,2172.1 L 1146.3,2215.6"/>
<path class="s" d="M 1012.5,1835.4 L 918.2,1882.5"/>
<path class="w" d="M 850.9,1301.7 C 850.9,1292.6 872.2,1292.6 872.2,1301.7 L 869.2,1340.2 L 846.9,1338.2 Z"/>
<path class="s" d="M 872,1301.7 A 10.5 7.1 0 1 0 850.9,1301.7 A 10.5 7.1 0 1 0 872,1301.7 Z"/>
<path class="p" d="M 868.4,1302.9 A 6.9 4.1 0 1 0 854.6,1302.9 A 6.9 4.1 0 1 0 868.4,1302.9 Z"/>
<path d="M 840.6,1158.5 C 856.3,1175 868.1,1194.7 870,1233.2" fill="none" stroke="#000" stroke-width="10.4" stroke-linecap="butt" stroke-linejoin="round"/>
<path d="M 840.6,1158.5 C 856.3,1175 868.1,1194.7 870,1233.2" fill="none" stroke="#fff" stroke-width="5.6" stroke-linecap="butt" stroke-linejoin="round"/>
<path d="M 803.2,1148.3 L 838.6,1156.2 L 864.1,1161.3 C 872,1161.3 875.9,1158.5 881.8,1153.4 L 929,1114.1 C 936.8,1107.4 944.7,1106.3 954.5,1108.2 L 984.8,1115.3 L 1042.9,1123.9 C 1052.7,1125.1 1058.6,1122 1064.5,1118.1 L 1113.6,1080.7 C 1121.5,1074.8 1129.4,1073.7 1137.2,1074.8 L 1168.6,1082.7 L 1219.7,1090.6 C 1229.5,1091.7 1235.4,1088.6 1241.3,1084.7 L 1288.5,1049.3 C 1296.3,1043.4 1304.2,1042.2 1310.1,1043.4 L 1341.5,1049.3" fill="none" stroke="#000" stroke-width="10.4" stroke-linecap="butt" stroke-linejoin="round"/>
<path d="M 803.2,1148.3 L 838.6,1156.2 L 864.1,1161.3 C 872,1161.3 875.9,1158.5 881.8,1153.4 L 929,1114.1 C 936.8,1107.4 944.7,1106.3 954.5,1108.2 L 984.8,1115.3 L 1042.9,1123.9 C 1052.7,1125.1 1058.6,1122 1064.5,1118.1 L 1113.6,1080.7 C 1121.5,1074.8 1129.4,1073.7 1137.2,1074.8 L 1168.6,1082.7 L 1219.7,1090.6 C 1229.5,1091.7 1235.4,1088.6 1241.3,1084.7 L 1288.5,1049.3 C 1296.3,1043.4 1304.2,1042.2 1310.1,1043.4 L 1341.5,1049.3" fill="none" stroke="#fff" stroke-width="5.6" stroke-linecap="butt" stroke-linejoin="round"/>
<path class="s" d="M 873.9,1233.6 A 3.5 1.6 0 1 0 866.9,1233.6 A 3.5 1.6 0 1 0 873.9,1233.6 Z"/>
<path class="w" d="M 785.1,1142.8 L 785.1,1159.3 C 787.5,1173.5 818.9,1173.5 821.3,1159.3 L 821.3,1142.8 Z"/>
<path class="w" d="M 821.3,1142.8 A 18.1 11 0 1 0 785.1,1142.8 A 18.1 11 0 1 0 821.3,1142.8 Z"/>
<path class="s" d="M 811.1,1142.8 A 7.9 5.1 0 1 0 795.4,1142.8 A 7.9 5.1 0 1 0 811.1,1142.8 Z"/>
<path class="w" d="M 966.7,1110.6 L 966.7,1127.1 C 969,1141.2 1000.5,1141.2 1002.8,1127.1 L 1002.8,1110.6 Z"/>
<path class="w" d="M 1002.8,1110.6 A 18.1 11 0 1 0 966.7,1110.6 A 18.1 11 0 1 0 1002.8,1110.6 Z"/>
<path class="s" d="M 992.6,1110.6 A 7.9 5.1 0 1 0 976.9,1110.6 A 7.9 5.1 0 1 0 992.6,1110.6 Z"/>
<path class="w" d="M 1150.6,1078 L 1150.6,1094.5 C 1152.9,1108.6 1184.4,1108.6 1186.7,1094.5 L 1186.7,1078 Z"/>
<path class="w" d="M 1186.7,1078 A 18.1 11 0 1 0 1150.6,1078 A 18.1 11 0 1 0 1186.7,1078 Z"/>
<path class="s" d="M 1176.5,1078 A 7.9 5.1 0 1 0 1160.8,1078 A 7.9 5.1 0 1 0 1176.5,1078 Z"/>
<path class="w" d="M 1323.5,1045.4 L 1323.5,1061.9 C 1325.8,1076 1357.2,1076 1359.6,1061.9 L 1359.6,1045.4 Z"/>
<path class="w" d="M 1359.6,1045.4 A 18.1 11 0 1 0 1323.5,1045.4 A 18.1 11 0 1 0 1359.6,1045.4 Z"/>
<path class="s" d="M 1349.4,1045.4 A 7.9 5.1 0 1 0 1333.7,1045.4 A 7.9 5.1 0 1 0 1349.4,1045.4 Z M 712.8,1118.4 L 785.9,1142.8"/>
<path class="t" d="M 757.6,1216.5 L 739.4,1296.6"/>
<path class="w" d="M 748.5,1190.1 C 748.5,1180 775.5,1180 775.5,1190.1 L 773.8,1205.3 L 764.7,1210.8 L 755.6,1210 L 749.5,1204.3 Z"/>
<path class="s" d="M 775.3,1189.1 A 13.2 7.3 0 1 0 748.9,1189.1 A 13.2 7.3 0 1 0 775.3,1189.1 Z M 770,1189.7 A 7.3 4.1 0 1 0 755.4,1189.7 A 7.3 4.1 0 1 0 770,1189.7 Z"/>
<path class="t" d="M 767.8,1190.5 A 4.9 2.4 0 1 0 758,1190.5 A 4.9 2.4 0 1 0 767.8,1190.5 Z"/>
<path class="s" d="M 755.6,1199.3 L 755.6,1210 M 765.7,1199.3 L 764.7,1210.8 M 748.9,1191.2 C 751.5,1197.2 761.7,1200.3 765.7,1199.3 C 769.8,1199.3 773.8,1196.2 775.5,1191.2 M 681.6,1182 L 748.5,1193.8"/>
<path class="w" d="M 882.3,1263.6 A 14.2 10.5 0 1 0 854,1263.6 A 14.2 10.5 0 1 0 882.3,1263.6 Z"/>
<path class="s" d="M 877.3,1262.7 A 9.1 6.1 0 1 0 859,1262.7 A 9.1 6.1 0 1 0 877.3,1262.7 Z M 854.6,1266.2 C 855.4,1275.7 869.2,1279.8 877.7,1273.7"/>
<path class="w" d="M 877.3,1261.1 L 890.5,1261.1 L 891.5,1269.2 L 886.4,1271.7 L 886.4,1264.2 L 880.3,1263.6 Z"/>
<path class="w" d="M 882.3,1267.6 L 869.2,1277.7 L 869.2,1285.5 L 884.4,1272.3 Z"/>
<path class="s" d="M 879.3,1251 L 913.8,1207.4"/>
<path class="t" d="M 732.4,1454.9 L 725.9,1486.2 M 710.8,1553.4 L 690.4,1644.6 M 666,1633.8 L 660.2,1661.8"/>
<path class="w" d="M 744.9,1490.5 A 20 15.1 0 1 0 704.8,1490.5 A 20 15.1 0 1 0 744.9,1490.5 Z"/>
<path class="s" d="M 744.2,1487.7 A 19.4 12.9 0 1 0 705.4,1487.7 A 19.4 12.9 0 1 0 744.2,1487.7 Z M 737.8,1487.3 A 12.9 8.2 0 1 0 711.9,1487.3 A 12.9 8.2 0 1 0 737.8,1487.3 Z M 713.4,1490.9 C 717.3,1496.3 732.4,1496.3 736.7,1490.5"/>
<path class="w" d="M 731.1,1532.7 A 15.5 12.9 0 1 0 700.1,1532.7 A 15.5 12.9 0 1 0 731.1,1532.7 Z"/>
<path class="s" d="M 730.7,1530.4 A 15.1 10.8 0 1 0 700.5,1530.4 A 15.1 10.8 0 1 0 730.7,1530.4 Z M 724.6,1529.9 A 9 5.8 0 1 0 706.5,1529.9 A 9 5.8 0 1 0 724.6,1529.9 Z M 707.6,1532.5 C 710.8,1536.8 720.5,1536.8 723.8,1531.9"/>
<path class="w" d="M 672,1570.2 C 672,1562.7 688.2,1563.8 688.2,1572.4 L 677.4,1624.1 C 676.4,1630.6 662.3,1629.5 660.8,1621.9 Z"/>
<path class="s" d="M 671.4,1573.5 C 675.3,1577.8 683.9,1578.4 687.6,1575 M 670.1,1579.5 C 674,1583.8 682.6,1584.4 686.3,1581 M 668.8,1585.5 C 672.7,1589.8 681.3,1590.5 685,1587 M 665.1,1602.5 C 668.8,1606.9 678.1,1607.5 681.7,1604.1 M 663.9,1608.6 C 667.5,1612.9 676.8,1613.5 680.4,1610.1 M 662.6,1614.6 C 666.2,1618.9 675.5,1619.6 679.2,1616.1 M 661.3,1620.6 C 664.9,1625 674.2,1625.6 677.9,1622.2 M 636.5,1450 L 706.5,1479.7 M 624.6,1511 L 701.1,1531.9 M 606.3,1591.8 L 663.4,1604.3"/>
<path class="w" d="M 750.5,1314.3 L 733.7,1390.9 L 738.4,1409.2 L 739.4,1415.2 L 729.2,1443.6 C 730.2,1449.7 740.4,1450.7 741.4,1445.7 L 749.5,1416.3 L 753.6,1411.2 L 760.1,1400.6 L 775.5,1329.1 L 772.8,1313.8 Z"/>
<path class="s" d="M 741.4,1362.5 C 747.5,1368.6 759.7,1369.6 766.7,1365.6 M 740.4,1368.6 C 745.5,1374.7 758.6,1375.7 764.7,1371.6 M 734.3,1391.9 C 739.4,1401.1 753.6,1403.1 760.1,1400.6 M 739.4,1415.2 C 742.4,1418.3 747.5,1418.3 749.5,1416.3"/>
<path class="w" d="M 789.1,1299.7 L 820.5,1306.1 C 822.5,1304.7 825.6,1304.1 827.6,1305.3 L 835.7,1308.2 C 844.8,1310.8 845.8,1330.1 837.7,1331.7 L 826.6,1334.5 C 824.5,1334.9 823.5,1334.1 822.5,1333.5 L 780.9,1325 L 772.8,1313.8 Z"/>
<path class="s" d="M 820.5,1306.1 C 815.4,1309.8 816,1330.1 822.5,1333.5 M 824.1,1304.9 C 818.9,1309.8 819.5,1331.1 826.6,1334.5 M 844.4,1320.9 A 6.7 11.2 8 1 0 831.1,1319 A 6.7 11.2 8 1 0 844.4,1320.9 Z M 841.7,1320.9 A 3.9 6.1 8 1 0 834.1,1319.8 A 3.9 6.1 8 1 0 841.7,1320.9 Z"/>
<path class="w" d="M 718.1,1294.6 L 756.6,1267.6 L 795.1,1258.1 L 812,1258.1 C 816.4,1259.1 820.5,1265.2 821.5,1270.2 L 821.1,1279.4 L 773.8,1313.4 L 729.2,1313.8 L 718.1,1301.7 Z"/>
<path class="s" d="M 821.5,1270.2 L 774.9,1306.7 M 720.1,1297.2 L 727.6,1304.1 M 772.8,1313.8 L 779.9,1325 L 790.1,1322.4 M 747.1,1296.6 A 8.1 5.1 0 1 0 730.9,1296.6 A 8.1 5.1 0 1 0 747.1,1296.6 Z M 811.4,1270.2 A 8.1 5.7 0 1 0 795.1,1270.2 A 8.1 5.7 0 1 0 811.4,1270.2 Z"/>
<path class="w" d="M 760.7,1261.1 C 760.7,1250 795.1,1250 795.1,1261.1 L 789.1,1287.5 C 782,1297.6 759.7,1293.6 756.6,1281.4 Z"/>
<path class="s" d="M 795.1,1261.1 A 17.2 8.5 0 1 0 760.7,1261.1 A 17.2 8.5 0 1 0 795.1,1261.1 Z M 763.7,1265.2 C 769.8,1271.7 786,1270.7 792.1,1263.6"/>
<path class="w" d="M 773.8,1240.8 L 771.8,1261.1 C 775.9,1266.2 786,1266.2 787.6,1262.1 L 791.1,1241.9 Z"/>
<path class="w" d="M 771.8,1228.7 C 771.8,1218.5 797.2,1218.5 797.2,1229.7 L 796.2,1238.8 C 792.1,1243.9 777.9,1243.9 772.8,1237.8 Z"/>
<path class="w" d="M 935.1,1280.9 L 918.3,1357.5 L 923,1375.8 L 924,1381.8 L 913.8,1410.2 C 914.8,1416.3 925,1417.3 926,1412.3 L 934.1,1382.9 L 938.2,1377.8 L 944.7,1367.2 L 960.1,1295.7 L 957.4,1280.4 Z"/>
<path class="s" d="M 926,1329.1 C 932.1,1335.2 944.3,1336.2 951.3,1332.2 M 925,1335.2 C 930.1,1341.3 943.2,1342.3 949.3,1338.2 M 918.9,1358.5 C 924,1367.7 938.2,1369.7 944.7,1367.2 M 924,1381.8 C 927,1384.9 932.1,1384.9 934.1,1382.9"/>
<path class="w" d="M 973.7,1266.3 L 1005.1,1272.7 C 1007.1,1271.3 1010.2,1270.7 1012.2,1271.9 L 1020.3,1274.8 C 1029.4,1277.4 1030.4,1296.7 1022.3,1298.3 L 1011.2,1301.1 C 1009.1,1301.5 1008.1,1300.7 1007.1,1300.1 L 965.5,1291.6 L 957.4,1280.4 Z"/>
<path class="s" d="M 1005.1,1272.7 C 1000,1276.4 1000.6,1296.7 1007.1,1300.1 M 1008.7,1271.5 C 1003.5,1276.4 1004.1,1297.7 1011.2,1301.1 M 1029,1287.5 A 6.7 11.2 8 1 0 1015.7,1285.6 A 6.7 11.2 8 1 0 1029,1287.5 Z M 1026.3,1287.5 A 3.9 6.1 8 1 0 1018.7,1286.4 A 3.9 6.1 8 1 0 1026.3,1287.5 Z"/>
<path class="w" d="M 902.7,1261.2 L 941.2,1234.2 L 979.7,1224.7 L 996.6,1224.7 C 1001,1225.7 1005.1,1231.8 1006.1,1236.8 L 1005.7,1246 L 958.4,1280 L 913.8,1280.4 L 902.7,1268.3 Z"/>
<path class="s" d="M 1006.1,1236.8 L 959.5,1273.3 M 904.7,1263.8 L 912.2,1270.7 M 957.4,1280.4 L 964.5,1291.6 L 974.7,1289 M 931.7,1263.2 A 8.1 5.1 0 1 0 915.5,1263.2 A 8.1 5.1 0 1 0 931.7,1263.2 Z M 996,1236.8 A 8.1 5.7 0 1 0 979.7,1236.8 A 8.1 5.7 0 1 0 996,1236.8 Z"/>
<path class="w" d="M 945.3,1227.7 C 945.3,1216.6 979.7,1216.6 979.7,1227.7 L 973.7,1254.1 C 966.6,1264.2 944.3,1260.2 941.2,1248 Z"/>
<path class="s" d="M 979.7,1227.7 A 17.2 8.5 0 1 0 945.3,1227.7 A 17.2 8.5 0 1 0 979.7,1227.7 Z M 948.3,1231.8 C 954.4,1238.3 970.6,1237.3 976.7,1230.2"/>
<path class="w" d="M 958.4,1207.4 L 956.4,1227.7 C 960.5,1232.8 970.6,1232.8 972.2,1228.7 L 975.7,1208.5 Z"/>
<path class="w" d="M 956.4,1195.3 C 956.4,1185.1 981.8,1185.1 981.8,1196.3 L 980.8,1205.4 C 976.7,1210.5 962.5,1210.5 957.4,1204.4 Z"/>
<path class="w" d="M 1116.3,1249.6 L 1099.5,1326.2 L 1104.2,1344.5 L 1105.2,1350.5 L 1095,1378.9 C 1096,1385 1106.2,1386 1107.2,1381 L 1115.3,1351.6 L 1119.4,1346.5 L 1125.9,1335.9 L 1141.3,1264.4 L 1138.6,1249.1 Z"/>
<path class="s" d="M 1107.2,1297.8 C 1113.3,1303.9 1125.5,1304.9 1132.5,1300.9 M 1106.2,1303.9 C 1111.3,1310 1124.4,1311 1130.5,1306.9 M 1100.1,1327.2 C 1105.2,1336.4 1119.4,1338.4 1125.9,1335.9 M 1105.2,1350.5 C 1108.2,1353.6 1113.3,1353.6 1115.3,1351.6"/>
<path class="w" d="M 1154.9,1235 L 1186.3,1241.4 C 1188.3,1240 1191.4,1239.4 1193.4,1240.6 L 1201.5,1243.5 C 1210.6,1246.1 1211.6,1265.4 1203.5,1267 L 1192.4,1269.8 C 1190.3,1270.2 1189.3,1269.4 1188.3,1268.8 L 1146.7,1260.3 L 1138.6,1249.1 Z"/>
<path class="s" d="M 1186.3,1241.4 C 1181.2,1245.1 1181.8,1265.4 1188.3,1268.8 M 1189.9,1240.2 C 1184.7,1245.1 1185.3,1266.4 1192.4,1269.8 M 1210.2,1256.2 A 6.7 11.2 8 1 0 1196.9,1254.3 A 6.7 11.2 8 1 0 1210.2,1256.2 Z M 1207.5,1256.2 A 3.9 6.1 8 1 0 1199.9,1255.1 A 3.9 6.1 8 1 0 1207.5,1256.2 Z"/>
<path class="w" d="M 1083.9,1229.9 L 1122.4,1202.9 L 1160.9,1193.4 L 1177.8,1193.4 C 1182.2,1194.4 1186.3,1200.5 1187.3,1205.5 L 1186.9,1214.7 L 1139.6,1248.7 L 1095,1249.1 L 1083.9,1237 Z"/>
<path class="s" d="M 1187.3,1205.5 L 1140.7,1242 M 1085.9,1232.5 L 1093.4,1239.4 M 1138.6,1249.1 L 1145.7,1260.3 L 1155.9,1257.7 M 1112.9,1231.9 A 8.1 5.1 0 1 0 1096.7,1231.9 A 8.1 5.1 0 1 0 1112.9,1231.9 Z M 1177.2,1205.5 A 8.1 5.7 0 1 0 1160.9,1205.5 A 8.1 5.7 0 1 0 1177.2,1205.5 Z"/>
<path class="w" d="M 1126.5,1196.4 C 1126.5,1185.3 1160.9,1185.3 1160.9,1196.4 L 1154.9,1222.8 C 1147.8,1232.9 1125.5,1228.9 1122.4,1216.7 Z"/>
<path class="s" d="M 1160.9,1196.4 A 17.2 8.5 0 1 0 1126.5,1196.4 A 17.2 8.5 0 1 0 1160.9,1196.4 Z M 1129.5,1200.5 C 1135.6,1207 1151.8,1206 1157.9,1198.9"/>
<path class="w" d="M 1139.6,1176.1 L 1137.6,1196.4 C 1141.7,1201.5 1151.8,1201.5 1153.4,1197.4 L 1156.9,1177.2 Z"/>
<path class="w" d="M 1137.6,1164 C 1137.6,1153.8 1163,1153.8 1163,1165 L 1162,1174.1 C 1157.9,1179.2 1143.7,1179.2 1138.6,1173.1 Z"/>
<path class="w" d="M 1287.6,1220.6 L 1270.8,1297.2 L 1275.5,1315.5 L 1276.5,1321.5 L 1266.3,1349.9 C 1267.3,1356 1277.5,1357 1278.5,1352 L 1286.6,1322.6 L 1290.7,1317.5 L 1297.2,1306.9 L 1312.6,1235.4 L 1309.9,1220.1 Z"/>
<path class="s" d="M 1278.5,1268.8 C 1284.6,1274.9 1296.8,1275.9 1303.8,1271.9 M 1277.5,1274.9 C 1282.6,1281 1295.7,1282 1301.8,1277.9 M 1271.4,1298.2 C 1276.5,1307.4 1290.7,1309.4 1297.2,1306.9 M 1276.5,1321.5 C 1279.5,1324.6 1284.6,1324.6 1286.6,1322.6"/>
<path class="w" d="M 1326.2,1206 L 1357.6,1212.4 C 1359.6,1211 1362.7,1210.4 1364.7,1211.6 L 1372.8,1214.5 C 1381.9,1217.1 1382.9,1236.4 1374.8,1238 L 1363.7,1240.8 C 1361.6,1241.2 1360.6,1240.4 1359.6,1239.8 L 1318,1231.3 L 1309.9,1220.1 Z"/>
<path class="s" d="M 1357.6,1212.4 C 1352.5,1216.1 1353.1,1236.4 1359.6,1239.8 M 1361.2,1211.2 C 1356,1216.1 1356.6,1237.4 1363.7,1240.8 M 1381.5,1227.2 A 6.7 11.2 8 1 0 1368.2,1225.3 A 6.7 11.2 8 1 0 1381.5,1227.2 Z M 1378.8,1227.2 A 3.9 6.1 8 1 0 1371.2,1226.1 A 3.9 6.1 8 1 0 1378.8,1227.2 Z"/>
<path class="w" d="M 1255.2,1200.9 L 1293.7,1173.9 L 1332.2,1164.4 L 1349.1,1164.4 C 1353.5,1165.4 1357.6,1171.5 1358.6,1176.5 L 1358.2,1185.7 L 1310.9,1219.7 L 1266.3,1220.1 L 1255.2,1208 Z"/>
<path class="s" d="M 1358.6,1176.5 L 1312,1213 M 1257.2,1203.5 L 1264.7,1210.4 M 1309.9,1220.1 L 1317,1231.3 L 1327.2,1228.7 M 1284.2,1202.9 A 8.1 5.1 0 1 0 1268,1202.9 A 8.1 5.1 0 1 0 1284.2,1202.9 Z M 1348.5,1176.5 A 8.1 5.7 0 1 0 1332.2,1176.5 A 8.1 5.7 0 1 0 1348.5,1176.5 Z"/>
<path class="w" d="M 1297.8,1167.4 C 1297.8,1156.3 1332.2,1156.3 1332.2,1167.4 L 1326.2,1193.8 C 1319.1,1203.9 1296.8,1199.9 1293.7,1187.7 Z"/>
<path class="s" d="M 1332.2,1167.4 A 17.2 8.5 0 1 0 1297.8,1167.4 A 17.2 8.5 0 1 0 1332.2,1167.4 Z M 1300.8,1171.5 C 1306.9,1178 1323.1,1177 1329.2,1169.9"/>
<path class="w" d="M 1310.9,1147.1 L 1308.9,1167.4 C 1313,1172.5 1323.1,1172.5 1324.7,1168.4 L 1328.2,1148.2 Z"/>
<path class="w" d="M 1308.9,1135 C 1308.9,1124.8 1334.3,1124.8 1334.3,1136 L 1333.3,1145.1 C 1329.2,1150.2 1315,1150.2 1309.9,1144.1 Z"/>
<path class="t" d="M 732.3,1454.8 L 727.2,1479.9"/>
<path class="s" d="M 665.3,1266.2 L 718.1,1290.5 M 1000.3,1225.1 L 1044.7,1198.7 M 1181.5,1194.8 L 1224.3,1167.4 M 1352.8,1165.1 L 1400,1138.8 M 498.8,1364.8 L 512.1,1411.4"/>
</g>
<g id="misc">
<path class="s" d="M 518.3,578.3 L 543.3,624"/>
<path d="M 257,2135.1 L 292.2,2080.3 L 300.7,2085.2 L 301.7,2091.3 L 352.6,2062.8 L 361.6,2068.1 L 361.6,2110.3 L 300.7,2144.9 L 300.7,2160.2 Z" fill="#fff" stroke="#000" stroke-width="2.6" stroke-linejoin="miter"/>
<path d="M 267.1,2138.5 L 300.2,2087.1 M 301.7,2101.2 L 360.6,2068.5 M 301.7,2091.3 L 301.7,2101.2" fill="none" stroke="#000" stroke-width="1.6"/>
<text transform="matrix(0.52,-0.29,0,1,299.4,2140.2)" font-family="Liberation Sans,sans-serif" font-weight="bold" font-style="italic" font-size="47" fill="#000" stroke="#000" stroke-width="1.8">FWD</text>
<rect x="1550" y="2259" width="200" height="76" fill="#fff" stroke="#000" stroke-width="6"/>
<text x="1616.4" y="2324.8" font-family="Liberation Sans,sans-serif" font-weight="bold" font-size="84.5" fill="#000">C</text>
</g>
<g class="lb">
<text transform="translate(794,258.4) scale(1.3,1)" text-anchor="middle" font-size="30.5">3</text>
<text transform="translate(1445.5,229.7) scale(1.3,1)" text-anchor="middle" font-size="30.5">2</text>
<text transform="translate(905.1,499.8) scale(1.3,1)" text-anchor="middle" font-size="30.5">1</text>
<text transform="translate(1080.7,465.3) scale(1.3,1)" text-anchor="middle" font-size="30.5">1</text>
<text transform="translate(1260.7,432) scale(1.3,1)" text-anchor="middle" font-size="30.5">1</text>
<text transform="translate(1431.7,409.1) scale(1.3,1)" text-anchor="middle" font-size="30.5">1</text>
<text x="408" y="570" textLength="213" lengthAdjust="spacingAndGlyphs">SEE FIG.1-11</text>
<text transform="translate(700,1128) scale(1.3,1)" text-anchor="middle" font-size="30.5">8</text>
<text transform="translate(657,1193.2) scale(1.3,1)" text-anchor="middle" font-size="30.5">7</text>
<text transform="translate(652.2,1268.2) scale(1.3,1)" text-anchor="middle" font-size="30.5">4</text>
<text transform="translate(921,1198.6) scale(1.3,1)" text-anchor="middle" font-size="30.5">9</text>
<text transform="translate(1056.5,1198) scale(1.3,1)" text-anchor="middle" font-size="30.5">4</text>
<text transform="translate(1237.4,1167.7) scale(1.3,1)" text-anchor="middle" font-size="30.5">4</text>
<text transform="translate(1408.7,1137.5) scale(1.3,1)" text-anchor="middle" font-size="30.5">4</text>
<text transform="translate(618.4,1450.6) scale(1.3,1)" text-anchor="middle" font-size="30.5">5</text>
<text transform="translate(608.3,1516.4) scale(1.3,1)" text-anchor="middle" font-size="30.5">9</text>
<text transform="translate(590.2,1593.9) scale(1.3,1)" text-anchor="middle" font-size="30.5">6</text>
<text x="387.9" y="1353.3" textLength="211.5" lengthAdjust="spacingAndGlyphs">SEE FIG.1-11</text>
<text x="1018" y="1836.9" textLength="183" lengthAdjust="spacingAndGlyphs">SEE FIG.27</text>
<text x="202.8" y="2206.3" textLength="240.5" lengthAdjust="spacingAndGlyphs">N691300-E100</text>
</g>
<g transform="translate(21.9,788.7) rotate(31.92)" style="mix-blend-mode:multiply"><text class="wm" x="0" y="0" font-size="150">Flood Marine Services</text></g>
</svg>
</body></html>
